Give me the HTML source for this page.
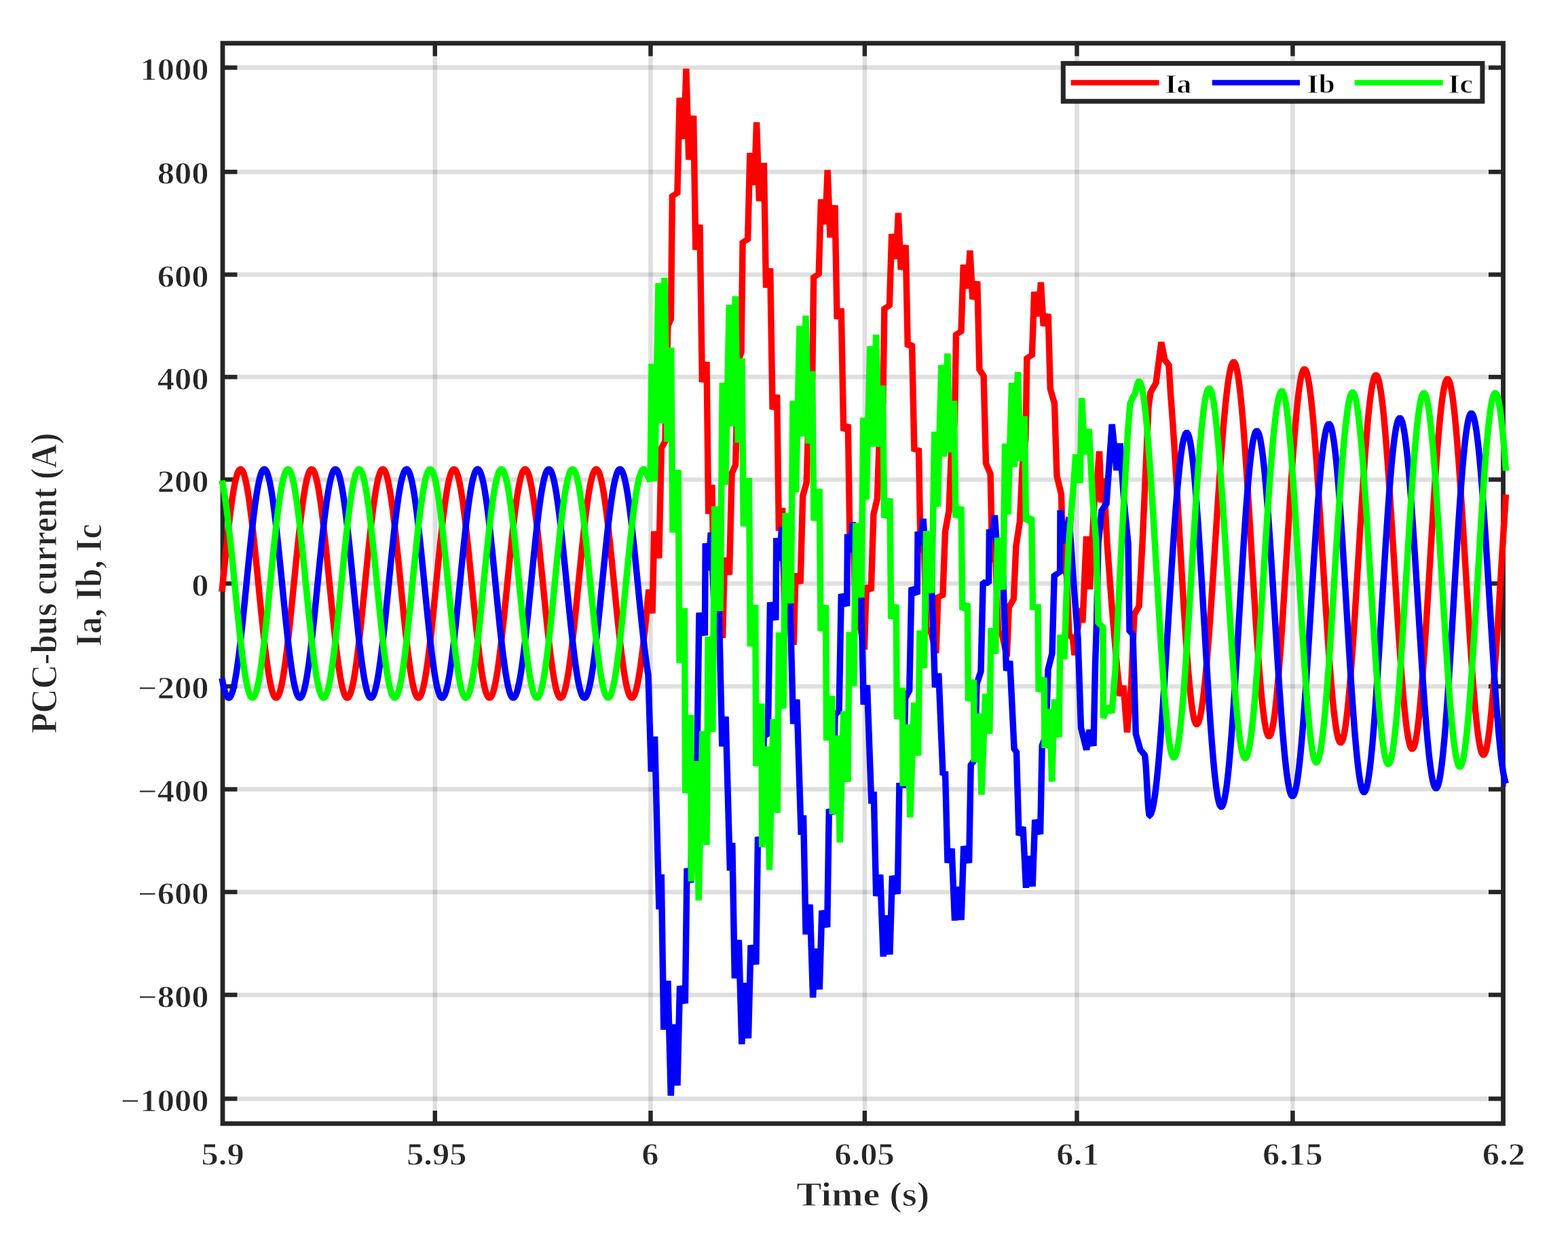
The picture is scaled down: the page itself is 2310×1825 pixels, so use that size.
<!DOCTYPE html>
<html><head><meta charset="utf-8"><title>PCC-bus current</title>
<style>
html,body{margin:0;padding:0;background:#fff;}
body{width:2310px;height:1825px;overflow:hidden;position:relative;font-family:"Liberation Serif",serif;}
svg{position:absolute;left:0;top:0;display:block;}
.t text{font-family:"Liberation Serif",serif;font-weight:bold;stroke:#fff;stroke-width:0.9px;paint-order:fill stroke;}
</style></head><body>
<svg width="2310" height="1825" viewBox="0 0 2310 1825">
<rect width="2310" height="1825" fill="#fff"/>
<g stroke="#262626" stroke-opacity="0.15" stroke-width="6.5" fill="none"><line x1="640.8" y1="63.7" x2="640.8" y2="1655.0"/><line x1="958.5" y1="63.7" x2="958.5" y2="1655.0"/><line x1="1273.9" y1="63.7" x2="1273.9" y2="1655.0"/><line x1="1586.5" y1="63.7" x2="1586.5" y2="1655.0"/><line x1="1904.4" y1="63.7" x2="1904.4" y2="1655.0"/><line x1="328.0" y1="99.6" x2="2214.5" y2="99.6"/><line x1="328.0" y1="253.2" x2="2214.5" y2="253.2"/><line x1="328.0" y1="404.5" x2="2214.5" y2="404.5"/><line x1="328.0" y1="555.3" x2="2214.5" y2="555.3"/><line x1="328.0" y1="706.4" x2="2214.5" y2="706.4"/><line x1="328.0" y1="859.5" x2="2214.5" y2="859.5"/><line x1="328.0" y1="1011.0" x2="2214.5" y2="1011.0"/><line x1="328.0" y1="1162.6" x2="2214.5" y2="1162.6"/><line x1="328.0" y1="1313.9" x2="2214.5" y2="1313.9"/><line x1="328.0" y1="1465.4" x2="2214.5" y2="1465.4"/><line x1="328.0" y1="1618.4" x2="2214.5" y2="1618.4"/></g>

<g stroke="#262626" stroke-width="6.4" fill="none"><line x1="640.8" y1="1655.0" x2="640.8" y2="1636.0"/><line x1="640.8" y1="63.7" x2="640.8" y2="82.7"/><line x1="958.5" y1="1655.0" x2="958.5" y2="1636.0"/><line x1="958.5" y1="63.7" x2="958.5" y2="82.7"/><line x1="1273.9" y1="1655.0" x2="1273.9" y2="1636.0"/><line x1="1273.9" y1="63.7" x2="1273.9" y2="82.7"/><line x1="1586.5" y1="1655.0" x2="1586.5" y2="1636.0"/><line x1="1586.5" y1="63.7" x2="1586.5" y2="82.7"/><line x1="1904.4" y1="1655.0" x2="1904.4" y2="1636.0"/><line x1="1904.4" y1="63.7" x2="1904.4" y2="82.7"/><line x1="328.0" y1="99.6" x2="349.5" y2="99.6"/><line x1="2214.5" y1="99.6" x2="2193.0" y2="99.6"/><line x1="328.0" y1="253.2" x2="349.5" y2="253.2"/><line x1="2214.5" y1="253.2" x2="2193.0" y2="253.2"/><line x1="328.0" y1="404.5" x2="349.5" y2="404.5"/><line x1="2214.5" y1="404.5" x2="2193.0" y2="404.5"/><line x1="328.0" y1="555.3" x2="349.5" y2="555.3"/><line x1="2214.5" y1="555.3" x2="2193.0" y2="555.3"/><line x1="328.0" y1="706.4" x2="349.5" y2="706.4"/><line x1="2214.5" y1="706.4" x2="2193.0" y2="706.4"/><line x1="328.0" y1="859.5" x2="349.5" y2="859.5"/><line x1="2214.5" y1="859.5" x2="2193.0" y2="859.5"/><line x1="328.0" y1="1011.0" x2="349.5" y2="1011.0"/><line x1="2214.5" y1="1011.0" x2="2193.0" y2="1011.0"/><line x1="328.0" y1="1162.6" x2="349.5" y2="1162.6"/><line x1="2214.5" y1="1162.6" x2="2193.0" y2="1162.6"/><line x1="328.0" y1="1313.9" x2="349.5" y2="1313.9"/><line x1="2214.5" y1="1313.9" x2="2193.0" y2="1313.9"/><line x1="328.0" y1="1465.4" x2="349.5" y2="1465.4"/><line x1="2214.5" y1="1465.4" x2="2193.0" y2="1465.4"/><line x1="328.0" y1="1618.4" x2="349.5" y2="1618.4"/><line x1="2214.5" y1="1618.4" x2="2193.0" y2="1618.4"/></g>
<rect x="328.0" y="63.7" width="1886.5" height="1591.3" fill="none" stroke="#262626" stroke-width="6.8"/>
<g transform="scale(1.096,1)"><path d="M298.36,871.6 L299.27,861.5 L300.18,851.4 L301.09,841.3 L302.01,831.3 L302.92,821.4 L303.83,811.6 L304.74,802.0 L305.66,792.7 L306.57,783.5 L307.48,774.6 L308.39,766.0 L309.31,757.8 L310.22,749.9 L311.13,742.4 L312.04,735.4 L312.96,728.8 L313.87,722.6 L314.78,717.0 L315.69,711.8 L316.61,707.2 L317.52,703.2 L318.43,699.7 L319.34,696.7 L320.26,694.4 L321.17,692.6 L322.08,691.5 L322.99,690.9 L323.91,691.0 L324.82,691.7 L325.73,692.9 L326.64,694.8 L327.55,697.3 L328.47,700.3 L329.38,703.9 L330.29,708.1 L331.20,712.8 L332.12,718.1 L333.03,723.8 L333.94,730.1 L334.85,736.8 L335.77,743.9 L336.68,751.5 L337.59,759.4 L338.50,767.7 L339.42,776.4 L340.33,785.3 L341.24,794.5 L342.15,804.0 L343.07,813.6 L343.98,823.4 L344.89,833.3 L345.80,843.4 L346.72,853.4 L347.63,863.5 L348.54,873.6 L349.45,883.7 L350.36,893.6 L351.28,903.5 L352.19,913.1 L353.10,922.6 L354.01,931.9 L354.93,940.9 L355.84,949.6 L356.75,957.9 L357.66,966.0 L358.58,973.6 L359.49,980.8 L360.40,987.6 L361.31,994.0 L362.23,999.8 L363.14,1005.2 L364.05,1010.0 L364.96,1014.3 L365.88,1018.0 L366.79,1021.2 L367.70,1023.7 L368.61,1025.7 L369.53,1027.1 L370.44,1027.9 L371.35,1028.1 L372.26,1027.7 L373.18,1026.6 L374.09,1025.0 L375.00,1022.8 L375.91,1020.0 L376.82,1016.6 L377.74,1012.6 L378.65,1008.1 L379.56,1003.1 L380.47,997.5 L381.39,991.5 L382.30,985.0 L383.21,978.0 L384.12,970.6 L385.04,962.8 L385.95,954.6 L386.86,946.1 L387.77,937.3 L388.69,928.2 L389.60,918.8 L390.51,909.3 L391.42,899.5 L392.34,889.7 L393.25,879.7 L394.16,869.6 L395.07,859.5 L395.99,849.4 L396.90,839.3 L397.81,829.3 L398.72,819.5 L399.64,809.7 L400.55,800.2 L401.46,790.8 L402.37,781.7 L403.28,772.9 L404.20,764.4 L405.11,756.2 L406.02,748.4 L406.93,741.0 L407.85,734.0 L408.76,727.5 L409.67,721.5 L410.58,715.9 L411.50,710.9 L412.41,706.4 L413.32,702.4 L414.23,699.0 L415.15,696.2 L416.06,694.0 L416.97,692.4 L417.88,691.3 L418.80,690.9 L419.71,691.1 L420.62,691.9 L421.53,693.3 L422.45,695.3 L423.36,697.8 L424.27,701.0 L425.18,704.7 L426.09,709.0 L427.01,713.8 L427.92,719.2 L428.83,725.0 L429.74,731.4 L430.66,738.2 L431.57,745.4 L432.48,753.0 L433.39,761.1 L434.31,769.4 L435.22,778.1 L436.13,787.1 L437.04,796.4 L437.96,805.9 L438.87,815.5 L439.78,825.4 L440.69,835.3 L441.61,845.4 L442.52,855.5 L443.43,865.6 L444.34,875.6 L445.26,885.7 L446.17,895.6 L447.08,905.4 L447.99,915.0 L448.91,924.5 L449.82,933.7 L450.73,942.6 L451.64,951.3 L452.55,959.6 L453.47,967.5 L454.38,975.1 L455.29,982.2 L456.20,988.9 L457.12,995.2 L458.03,1000.9 L458.94,1006.2 L459.85,1010.9 L460.77,1015.1 L461.68,1018.7 L462.59,1021.7 L463.50,1024.2 L464.42,1026.1 L465.33,1027.3 L466.24,1028.0 L467.15,1028.1 L468.07,1027.5 L468.98,1026.4 L469.89,1024.6 L470.80,1022.3 L471.72,1019.3 L472.63,1015.8 L473.54,1011.8 L474.45,1007.2 L475.36,1002.0 L476.28,996.4 L477.19,990.2 L478.10,983.6 L479.01,976.6 L479.93,969.1 L480.84,961.2 L481.75,953.0 L482.66,944.4 L483.58,935.5 L484.49,926.3 L485.40,917.0 L486.31,907.4 L487.23,897.6 L488.14,887.7 L489.05,877.7 L489.96,867.6 L490.88,857.5 L491.79,847.4 L492.70,837.3 L493.61,827.4 L494.53,817.5 L495.44,807.8 L496.35,798.3 L497.26,789.0 L498.18,779.9 L499.09,771.1 L500.00,762.7 L500.91,754.6 L501.82,746.9 L502.74,739.6 L503.65,732.7 L504.56,726.3 L505.47,720.3 L506.39,714.9 L507.30,709.9 L508.21,705.5 L509.12,701.7 L510.04,698.4 L510.95,695.7 L511.86,693.6 L512.77,692.1 L513.69,691.2 L514.60,690.9 L515.51,691.2 L516.42,692.1 L517.34,693.6 L518.25,695.7 L519.16,698.4 L520.07,701.7 L520.99,705.5 L521.90,709.9 L522.81,714.9 L523.72,720.3 L524.64,726.3 L525.55,732.7 L526.46,739.6 L527.37,746.9 L528.28,754.6 L529.20,762.7 L530.11,771.1 L531.02,779.9 L531.93,789.0 L532.85,798.3 L533.76,807.8 L534.67,817.5 L535.58,827.4 L536.50,837.3 L537.41,847.4 L538.32,857.5 L539.23,867.6 L540.15,877.7 L541.06,887.7 L541.97,897.6 L542.88,907.4 L543.80,917.0 L544.71,926.3 L545.62,935.5 L546.53,944.4 L547.45,953.0 L548.36,961.2 L549.27,969.1 L550.18,976.6 L551.09,983.6 L552.01,990.2 L552.92,996.4 L553.83,1002.0 L554.74,1007.2 L555.66,1011.8 L556.57,1015.8 L557.48,1019.3 L558.39,1022.3 L559.31,1024.6 L560.22,1026.4 L561.13,1027.5 L562.04,1028.1 L562.96,1028.0 L563.87,1027.3 L564.78,1026.1 L565.69,1024.2 L566.61,1021.7 L567.52,1018.7 L568.43,1015.1 L569.34,1010.9 L570.26,1006.2 L571.17,1000.9 L572.08,995.2 L572.99,988.9 L573.91,982.2 L574.82,975.1 L575.73,967.5 L576.64,959.6 L577.55,951.3 L578.47,942.6 L579.38,933.7 L580.29,924.5 L581.20,915.0 L582.12,905.4 L583.03,895.6 L583.94,885.7 L584.85,875.6 L585.77,865.6 L586.68,855.5 L587.59,845.4 L588.50,835.3 L589.42,825.4 L590.33,815.5 L591.24,805.9 L592.15,796.4 L593.07,787.1 L593.98,778.1 L594.89,769.4 L595.80,761.1 L596.72,753.0 L597.63,745.4 L598.54,738.2 L599.45,731.4 L600.36,725.0 L601.28,719.2 L602.19,713.8 L603.10,709.0 L604.01,704.7 L604.93,701.0 L605.84,697.8 L606.75,695.3 L607.66,693.3 L608.58,691.9 L609.49,691.1 L610.40,690.9 L611.31,691.3 L612.23,692.4 L613.14,694.0 L614.05,696.2 L614.96,699.0 L615.88,702.4 L616.79,706.4 L617.70,710.9 L618.61,715.9 L619.53,721.5 L620.44,727.5 L621.35,734.0 L622.26,741.0 L623.18,748.4 L624.09,756.2 L625.00,764.4 L625.91,772.9 L626.82,781.7 L627.74,790.8 L628.65,800.2 L629.56,809.7 L630.47,819.5 L631.39,829.3 L632.30,839.3 L633.21,849.4 L634.12,859.5 L635.04,869.6 L635.95,879.7 L636.86,889.7 L637.77,899.5 L638.69,909.3 L639.60,918.8 L640.51,928.2 L641.42,937.3 L642.34,946.1 L643.25,954.6 L644.16,962.8 L645.07,970.6 L645.99,978.0 L646.90,985.0 L647.81,991.5 L648.72,997.5 L649.64,1003.1 L650.55,1008.1 L651.46,1012.6 L652.37,1016.6 L653.28,1020.0 L654.20,1022.8 L655.11,1025.0 L656.02,1026.6 L656.93,1027.7 L657.85,1028.1 L658.76,1027.9 L659.67,1027.1 L660.58,1025.7 L661.50,1023.7 L662.41,1021.2 L663.32,1018.0 L664.23,1014.3 L665.15,1010.0 L666.06,1005.2 L666.97,999.8 L667.88,994.0 L668.80,987.6 L669.71,980.8 L670.62,973.6 L671.53,966.0 L672.45,957.9 L673.36,949.6 L674.27,940.9 L675.18,931.9 L676.09,922.6 L677.01,913.1 L677.92,903.5 L678.83,893.6 L679.74,883.7 L680.66,873.6 L681.57,863.5 L682.48,853.4 L683.39,843.4 L684.31,833.3 L685.22,823.4 L686.13,813.6 L687.04,804.0 L687.96,794.5 L688.87,785.3 L689.78,776.4 L690.69,767.7 L691.61,759.4 L692.52,751.5 L693.43,743.9 L694.34,736.8 L695.26,730.1 L696.17,723.8 L697.08,718.1 L697.99,712.8 L698.91,708.1 L699.82,703.9 L700.73,700.3 L701.64,697.3 L702.55,694.8 L703.47,692.9 L704.38,691.7 L705.29,691.0 L706.20,690.9 L707.12,691.5 L708.03,692.6 L708.94,694.4 L709.85,696.7 L710.77,699.7 L711.68,703.2 L712.59,707.2 L713.50,711.8 L714.42,717.0 L715.33,722.6 L716.24,728.8 L717.15,735.4 L718.07,742.4 L718.98,749.9 L719.89,757.8 L720.80,766.0 L721.72,774.6 L722.63,783.5 L723.54,792.7 L724.45,802.0 L725.36,811.6 L726.28,821.4 L727.19,831.3 L728.10,841.3 L729.01,851.4 L729.93,861.5 L730.84,871.6 L731.75,881.7 L732.66,891.6 L733.58,901.5 L734.49,911.2 L735.40,920.7 L736.31,930.0 L737.23,939.1 L738.14,947.9 L739.05,956.3 L739.96,964.4 L740.88,972.1 L741.79,979.4 L742.70,986.3 L743.61,992.7 L744.53,998.7 L745.44,1004.1 L746.35,1009.1 L747.26,1013.5 L748.18,1017.3 L749.09,1020.6 L750.00,1023.3 L750.91,1025.4 L751.82,1026.9 L752.74,1027.8 L753.65,1028.1 L754.56,1027.8 L755.47,1026.9 L756.39,1025.4 L757.30,1023.3 L758.21,1020.6 L759.12,1017.3 L760.04,1013.5 L760.95,1009.1 L761.86,1004.1 L762.77,998.7 L763.69,992.7 L764.60,986.3 L765.51,979.4 L766.42,972.1 L767.34,964.4 L768.25,956.3 L769.16,947.9 L770.07,939.1 L770.99,930.0 L771.90,920.7 L772.81,911.2 L773.72,901.5 L774.64,891.6 L775.55,881.7 L776.46,871.6 L777.37,861.5 L778.28,851.4 L779.20,841.3 L780.11,831.3 L781.02,821.4 L781.93,811.6 L782.85,802.0 L783.76,792.7 L784.67,783.5 L785.58,774.6 L786.50,766.0 L787.41,757.8 L788.32,749.9 L789.23,742.4 L790.15,735.4 L791.06,728.8 L791.97,722.6 L792.88,717.0 L793.80,711.8 L794.71,707.2 L795.62,703.2 L796.53,699.7 L797.45,696.7 L798.36,694.4 L799.27,692.6 L800.18,691.5 L801.09,690.9 L802.01,691.0 L802.92,691.7 L803.83,692.9 L804.74,694.8 L805.66,697.3 L806.57,700.3 L807.48,703.9 L808.39,708.1 L809.31,712.8 L810.22,718.1 L811.13,723.8 L812.04,730.1 L812.96,736.8 L813.87,743.9 L814.78,751.5 L815.69,759.4 L816.61,767.7 L817.52,776.4 L818.43,785.3 L819.34,794.5 L820.26,804.0 L821.17,813.6 L822.08,823.4 L822.99,833.3 L823.91,843.4 L824.82,853.4 L825.73,863.5 L826.64,873.6 L827.55,883.7 L828.47,893.6 L829.38,903.5 L830.29,913.1 L831.20,922.6 L832.12,931.9 L833.03,940.9 L833.94,949.6 L834.85,957.9 L835.77,966.0 L836.68,973.6 L837.59,980.8 L838.50,987.6 L839.42,994.0 L840.33,999.8 L841.24,1005.2 L842.15,1010.0 L843.07,1014.3 L843.98,1018.0 L844.89,1021.2 L845.80,1023.7 L846.72,1025.7 L847.63,1027.1 L848.54,1027.9 L849.45,1028.1 L850.36,1027.7 L851.28,1026.6 L852.19,1025.0 L853.10,1022.8 L854.01,1020.0 L854.93,1016.6 L855.84,1012.6 L856.75,1008.1 L857.66,1003.1 L858.58,997.5 L859.49,991.5 L860.40,985.0 L861.31,978.0 L862.23,970.6 L863.14,962.8 L864.05,954.6 L864.96,946.1 L865.88,937.3 L866.79,928.2 L872.08,868.3 L876.92,903.5 L879.29,782.7 L885.77,822.2 L889.05,660.0 L894.07,650.0 L897.72,480.0 L901.82,470.0 L903.65,289.0 L910.49,284.0 L913.50,144.0 L919.34,204.7 L922.35,101.0 L925.82,235.5 L932.21,170.5 L935.04,368.0 L940.69,331.0 L943.80,563.0 L949.82,533.0 L952.28,757.0 L957.03,714.0 L960.22,905.0 L965.24,885.0 L971.35,940.0 L974.00,821.5 L980.38,846.4 L983.67,697.4 L988.69,684.6 L992.34,531.5 L996.44,518.5 L998.27,357.2 L1005.11,352.2 L1008.12,225.2 L1013.96,272.6 L1016.97,180.2 L1020.44,296.2 L1026.82,239.9 L1029.65,423.7 L1035.31,395.4 L1038.41,603.2 L1044.43,581.5 L1046.90,782.0 L1051.64,748.1 L1054.84,919.1 L1059.85,903.1 L1066.79,950.0 L1069.43,844.4 L1075.82,859.7 L1079.11,730.0 L1084.12,711.4 L1087.77,577.3 L1091.88,558.3 L1093.70,408.4 L1100.55,403.4 L1103.56,293.6 L1109.40,330.4 L1112.41,250.4 L1115.88,349.8 L1122.26,302.4 L1125.09,469.6 L1130.75,454.2 L1133.85,634.3 L1139.87,625.3 L1142.34,798.9 L1147.08,778.3 L1150.27,926.3 L1155.29,916.0 L1161.86,957.0 L1164.51,863.0 L1170.89,870.1 L1174.18,757.7 L1179.20,734.5 L1182.85,617.4 L1186.95,593.5 L1188.78,454.7 L1195.62,449.7 L1198.63,344.7 L1204.47,381.5 L1207.48,313.7 L1210.95,397.3 L1217.34,361.1 L1220.16,510.7 L1225.82,506.4 L1228.92,661.6 L1234.95,663.4 L1237.41,812.8 L1242.15,803.7 L1245.35,931.1 L1250.36,925.8 L1258.21,962.0 L1260.86,879.7 L1267.24,876.5 L1270.53,782.5 L1275.55,752.5 L1279.20,653.2 L1283.30,622.3 L1285.13,492.9 L1291.97,487.9 L1294.98,389.9 L1300.82,425.1 L1303.83,368.9 L1307.30,440.9 L1313.69,414.6 L1316.51,544.2 L1322.17,553.8 L1325.27,682.6 L1331.30,698.1 L1333.76,821.9 L1338.50,827.0 L1341.70,932.4 L1346.72,933.2 L1353.47,967.0 L1356.11,894.6 L1362.50,882.6 L1365.78,804.1 L1370.80,768.3 L1374.45,684.0 L1378.56,646.9 L1380.38,527.7 L1387.23,522.7 L1390.24,429.8 L1396.08,466.1 L1399.09,415.7 L1402.55,480.1 L1408.94,462.5 L1411.77,572.8 L1417.43,594.3 L1420.53,700.7 L1426.55,728.1 L1429.01,830.0 L1433.76,847.4 L1436.95,934.2 L1441.97,940.2 L1444.34,965.0 L1451.92,896.0 L1455.20,917.0 L1460.31,790.0 L1464.87,868.0 L1470.80,740.0 L1473.54,728.0 L1477.65,664.7 L1480.38,740.0 L1483.58,704.5 L1488.14,800.0 L1494.53,893.7 L1501.82,987.0 L1505.47,1025.0 L1510.04,1010.0 L1515.05,1078.8 L1520.53,1010.0 L1524.64,905.0 L1531.02,893.0 L1535.58,800.0 L1543.80,600.0 L1546.53,578.0 L1553.83,564.0 L1560.95,504.0 L1565.69,530.0 L1571.17,538.0 L1573.45,580.0 L1574.36,592.5 L1575.27,605.8 L1576.19,619.7 L1577.10,634.3 L1578.01,649.4 L1578.92,665.0 L1579.84,681.1 L1580.75,697.6 L1581.66,714.4 L1582.57,731.4 L1583.49,748.7 L1584.40,766.0 L1585.31,783.5 L1586.22,801.0 L1587.14,818.3 L1588.05,835.6 L1588.96,852.6 L1589.87,869.4 L1590.78,885.9 L1591.70,902.0 L1592.61,917.6 L1593.52,932.7 L1594.43,947.3 L1595.35,961.2 L1596.26,974.5 L1597.17,987.0 L1598.08,998.8 L1599.00,1009.7 L1599.91,1019.8 L1600.82,1029.0 L1601.73,1037.3 L1602.65,1044.6 L1603.56,1050.9 L1604.47,1056.2 L1605.38,1060.4 L1606.30,1063.6 L1607.21,1065.8 L1608.12,1066.9 L1609.04,1066.9 L1609.96,1066.0 L1610.88,1064.2 L1611.80,1061.5 L1612.72,1057.9 L1613.64,1053.5 L1614.56,1048.1 L1615.48,1042.0 L1616.40,1035.0 L1617.32,1027.3 L1618.25,1018.7 L1619.17,1009.5 L1620.09,999.5 L1621.01,988.8 L1621.93,977.6 L1622.85,965.7 L1623.77,953.2 L1624.69,940.2 L1625.61,926.8 L1626.53,912.9 L1627.45,898.7 L1628.38,884.1 L1629.30,869.2 L1630.22,854.1 L1631.14,838.8 L1632.06,823.4 L1632.98,807.9 L1633.90,792.4 L1634.82,776.9 L1635.74,761.5 L1636.66,746.2 L1637.58,731.1 L1638.50,716.2 L1639.43,701.6 L1640.35,687.4 L1641.27,673.5 L1642.19,660.1 L1643.11,647.1 L1644.03,634.6 L1644.95,622.7 L1645.87,611.5 L1646.79,600.8 L1647.71,590.8 L1648.63,581.6 L1649.55,573.0 L1650.48,565.3 L1651.40,558.3 L1652.32,552.2 L1653.24,546.8 L1654.16,542.4 L1655.08,538.8 L1656.00,536.1 L1656.92,534.3 L1657.84,533.4 L1658.76,533.4 L1659.67,534.4 L1660.59,536.4 L1661.50,539.4 L1662.42,543.4 L1663.33,548.4 L1664.24,554.3 L1665.16,561.1 L1666.07,568.9 L1666.99,577.5 L1667.90,586.9 L1668.82,597.2 L1669.73,608.2 L1670.64,620.0 L1671.56,632.5 L1672.47,645.6 L1673.39,659.3 L1674.30,673.5 L1675.21,688.3 L1676.13,703.5 L1677.04,719.0 L1677.96,734.9 L1678.87,751.1 L1679.79,767.5 L1680.70,784.0 L1681.61,800.6 L1682.53,817.3 L1683.44,833.9 L1684.36,850.4 L1685.27,866.8 L1686.18,883.0 L1687.10,898.9 L1688.01,914.4 L1688.93,929.6 L1689.84,944.4 L1690.76,958.6 L1691.67,972.3 L1692.58,985.4 L1693.50,997.9 L1694.41,1009.7 L1695.33,1020.7 L1696.24,1031.0 L1697.15,1040.4 L1698.07,1049.0 L1698.98,1056.8 L1699.90,1063.6 L1700.81,1069.5 L1701.73,1074.5 L1702.64,1078.5 L1703.55,1081.5 L1704.47,1083.5 L1705.38,1084.5 L1706.30,1084.5 L1707.21,1083.5 L1708.12,1081.5 L1709.04,1078.6 L1709.95,1074.7 L1710.87,1069.8 L1711.78,1064.0 L1712.70,1057.3 L1713.61,1049.7 L1714.52,1041.3 L1715.44,1032.0 L1716.35,1021.9 L1717.27,1011.1 L1718.18,999.5 L1719.09,987.3 L1720.01,974.4 L1720.92,961.0 L1721.84,947.0 L1722.75,932.5 L1723.67,917.6 L1724.58,902.3 L1725.49,886.7 L1726.41,870.9 L1727.32,854.8 L1728.24,838.6 L1729.15,822.3 L1730.06,805.9 L1730.98,789.6 L1731.89,773.4 L1732.81,757.3 L1733.72,741.5 L1734.64,725.9 L1735.55,710.6 L1736.46,695.7 L1737.38,681.2 L1738.29,667.2 L1739.21,653.8 L1740.12,640.9 L1741.03,628.7 L1741.95,617.1 L1742.86,606.3 L1743.78,596.2 L1744.69,586.9 L1745.61,578.5 L1746.52,570.9 L1747.43,564.2 L1748.35,558.4 L1749.26,553.5 L1750.18,549.6 L1751.09,546.7 L1752.00,544.7 L1752.92,543.7 L1753.84,543.7 L1754.75,544.7 L1755.67,546.6 L1756.59,549.5 L1757.51,553.3 L1758.43,558.1 L1759.35,563.8 L1760.27,570.4 L1761.19,577.8 L1762.11,586.1 L1763.03,595.2 L1763.95,605.1 L1764.87,615.7 L1765.79,627.1 L1766.71,639.1 L1767.62,651.8 L1768.54,665.1 L1769.46,678.9 L1770.38,693.1 L1771.30,707.9 L1772.22,723.0 L1773.14,738.4 L1774.06,754.2 L1774.98,770.1 L1775.90,786.3 L1776.82,802.5 L1777.74,818.8 L1778.66,835.1 L1779.58,851.3 L1780.50,867.5 L1781.41,883.4 L1782.33,899.2 L1783.25,914.6 L1784.17,929.7 L1785.09,944.5 L1786.01,958.7 L1786.93,972.5 L1787.85,985.8 L1788.77,998.5 L1789.69,1010.5 L1790.61,1021.9 L1791.53,1032.5 L1792.45,1042.4 L1793.37,1051.5 L1794.28,1059.8 L1795.20,1067.2 L1796.12,1073.8 L1797.04,1079.5 L1797.96,1084.3 L1798.88,1088.1 L1799.80,1091.0 L1800.72,1092.9 L1801.64,1093.9 L1802.55,1093.9 L1803.47,1092.9 L1804.38,1090.9 L1805.29,1088.0 L1806.20,1084.1 L1807.12,1079.2 L1808.03,1073.4 L1808.94,1066.7 L1809.85,1059.1 L1810.77,1050.6 L1811.68,1041.3 L1812.59,1031.2 L1813.50,1020.4 L1814.42,1008.8 L1815.33,996.6 L1816.24,983.7 L1817.15,970.2 L1818.07,956.2 L1818.98,941.7 L1819.89,926.8 L1820.80,911.5 L1821.72,895.9 L1822.63,880.0 L1823.54,863.9 L1824.45,847.7 L1825.36,831.4 L1826.28,815.0 L1827.19,798.7 L1828.10,782.5 L1829.01,766.4 L1829.93,750.5 L1830.84,734.9 L1831.75,719.6 L1832.66,704.7 L1833.58,690.2 L1834.49,676.2 L1835.40,662.7 L1836.31,649.8 L1837.23,637.6 L1838.14,626.0 L1839.05,615.2 L1839.96,605.1 L1840.88,595.8 L1841.79,587.3 L1842.70,579.7 L1843.61,573.0 L1844.53,567.2 L1845.44,562.3 L1846.35,558.4 L1847.26,555.5 L1848.18,553.5 L1849.09,552.5 L1850.00,552.5 L1850.92,553.5 L1851.84,555.4 L1852.76,558.3 L1853.68,562.1 L1854.60,566.9 L1855.52,572.6 L1856.44,579.2 L1857.36,586.6 L1858.28,594.9 L1859.20,604.1 L1860.12,614.0 L1861.03,624.6 L1861.95,636.0 L1862.87,648.0 L1863.79,660.7 L1864.71,674.0 L1865.63,687.8 L1866.55,702.1 L1867.47,716.8 L1868.39,731.9 L1869.31,747.4 L1870.23,763.2 L1871.15,779.1 L1872.07,795.3 L1872.99,811.5 L1873.91,827.8 L1874.82,844.2 L1875.74,860.4 L1876.66,876.6 L1877.58,892.5 L1878.50,908.3 L1879.42,923.8 L1880.34,938.9 L1881.26,953.6 L1882.18,967.9 L1883.10,981.7 L1884.02,995.0 L1884.94,1007.7 L1885.86,1019.7 L1886.78,1031.1 L1887.69,1041.7 L1888.61,1051.6 L1889.53,1060.8 L1890.45,1069.1 L1891.37,1076.5 L1892.29,1083.1 L1893.21,1088.8 L1894.13,1093.6 L1895.05,1097.4 L1895.97,1100.3 L1896.89,1102.2 L1897.81,1103.2 L1898.72,1103.2 L1899.64,1102.2 L1900.55,1100.2 L1901.46,1097.2 L1902.37,1093.3 L1903.28,1088.4 L1904.20,1082.6 L1905.11,1075.8 L1906.02,1068.2 L1906.93,1059.6 L1907.85,1050.3 L1908.76,1040.1 L1909.67,1029.2 L1910.58,1017.6 L1911.50,1005.3 L1912.41,992.3 L1913.32,978.8 L1914.23,964.7 L1915.15,950.1 L1916.06,935.1 L1916.97,919.7 L1917.88,904.0 L1918.80,888.0 L1919.71,871.8 L1920.62,855.5 L1921.53,839.0 L1922.45,822.6 L1923.36,806.1 L1924.27,789.8 L1925.18,773.6 L1926.09,757.6 L1927.01,741.9 L1927.92,726.5 L1928.83,711.5 L1929.74,696.9 L1930.66,682.8 L1931.57,669.3 L1932.48,656.3 L1933.39,644.0 L1934.31,632.4 L1935.22,621.5 L1936.13,611.3 L1937.04,602.0 L1937.96,593.4 L1938.87,585.8 L1939.78,579.0 L1940.69,573.2 L1941.61,568.3 L1942.52,564.4 L1943.43,561.4 L1944.34,559.4 L1945.26,558.4 L1946.17,558.4 L1947.08,559.4 L1947.99,561.3 L1948.90,564.2 L1949.81,568.1 L1950.72,572.9 L1951.63,578.6 L1952.54,585.2 L1953.45,592.7 L1954.36,601.0 L1955.27,610.2 L1956.18,620.2 L1957.10,630.9 L1958.01,642.3 L1958.92,654.4 L1959.83,667.2 L1960.74,680.5 L1961.65,694.4 L1962.56,708.7 L1963.47,723.5 L1964.38,738.8 L1965.29,754.3 L1966.20,770.1 L1967.11,786.2 L1968.02,802.4 L1968.93,818.7 L1969.84,835.1 L1970.76,851.6 L1971.67,867.9 L1972.58,884.1 L1973.49,900.2 L1974.40,916.0 L1975.31,931.5 L1976.22,946.8 L1977.13,961.6 L1978.04,975.9 L1978.95,989.8 L1979.86,1003.1 L1980.77,1015.9 L1981.68,1028.0 L1982.59,1039.4 L1983.51,1050.1 L1984.42,1060.1 L1985.33,1069.3 L1986.24,1077.6 L1987.15,1085.1 L1988.06,1091.7 L1988.97,1097.4 L1989.88,1102.2 L1990.79,1106.1 L1991.70,1109.0 L1992.61,1110.9 L1993.52,1111.9 L1994.43,1111.9 L1995.34,1110.9 L1996.24,1109.0 L1997.15,1106.1 L1998.05,1102.3 L1998.96,1097.5 L1999.86,1091.8 L2000.77,1085.3 L2001.68,1077.8 L2002.58,1069.5 L2003.49,1060.4 L2004.39,1050.5 L2005.30,1039.9 L2006.20,1028.6 L2007.11,1016.5 L2008.01,1003.9 L2008.92,990.6 L2009.82,976.8 L2010.73,962.6 L2011.64,947.9 L2012.54,932.8 L2013.45,917.3 L2014.35,901.6 L2015.26,885.6 L2016.16,869.5 L2017.07,853.3 L2017.97,837.0 L2018.88,820.7 L2019.79,804.5 L2020.69,788.4 L2021.60,772.4 L2022.50,756.7 L2023.41,741.2 L2024.18,728.4" fill="none" stroke="#ff0000" stroke-width="8.6" stroke-linejoin="miter" stroke-miterlimit="1.5" stroke-linecap="butt"/>
<path d="M298.36,999.1 L299.27,1004.5 L300.18,1009.4 L301.09,1013.7 L302.01,1017.5 L302.92,1020.8 L303.83,1023.4 L304.74,1025.5 L305.66,1027.0 L306.57,1027.8 L307.48,1028.1 L308.39,1027.8 L309.31,1026.8 L310.22,1025.3 L311.13,1023.1 L312.04,1020.4 L312.96,1017.1 L313.87,1013.2 L314.78,1008.8 L315.69,1003.8 L316.61,998.3 L317.52,992.3 L318.43,985.9 L319.34,979.0 L320.26,971.6 L321.17,963.9 L322.08,955.7 L322.99,947.3 L323.91,938.5 L324.82,929.4 L325.73,920.1 L326.64,910.6 L327.55,900.9 L328.47,891.0 L329.38,881.0 L330.29,870.9 L331.20,860.8 L332.12,850.7 L333.03,840.7 L333.94,830.7 L334.85,820.8 L335.77,811.0 L336.68,801.4 L337.59,792.0 L338.50,782.9 L339.42,774.0 L340.33,765.5 L341.24,757.3 L342.15,749.4 L343.07,742.0 L343.98,734.9 L344.89,728.3 L345.80,722.2 L346.72,716.6 L347.63,711.5 L348.54,706.9 L349.45,702.9 L350.36,699.4 L351.28,696.6 L352.19,694.3 L353.10,692.5 L354.01,691.4 L354.93,690.9 L355.84,691.0 L356.75,691.7 L357.66,693.1 L358.58,695.0 L359.49,697.5 L360.40,700.5 L361.31,704.2 L362.23,708.4 L363.14,713.2 L364.05,718.4 L364.96,724.2 L365.88,730.5 L366.79,737.2 L367.70,744.4 L368.61,752.0 L369.53,760.0 L370.44,768.3 L371.35,777.0 L372.26,785.9 L373.18,795.1 L374.09,804.6 L375.00,814.2 L375.91,824.1 L376.82,834.0 L377.74,844.0 L378.65,854.1 L379.56,864.2 L380.47,874.3 L381.39,884.3 L382.30,894.3 L383.21,904.1 L384.12,913.8 L385.04,923.2 L385.95,932.5 L386.86,941.5 L387.77,950.1 L388.69,958.5 L389.60,966.5 L390.51,974.1 L391.42,981.3 L392.34,988.1 L393.25,994.4 L394.16,1000.2 L395.07,1005.5 L395.99,1010.3 L396.90,1014.5 L397.81,1018.2 L398.72,1021.4 L399.64,1023.9 L400.55,1025.8 L401.46,1027.2 L402.37,1027.9 L403.28,1028.1 L404.20,1027.6 L405.11,1026.5 L406.02,1024.9 L406.93,1022.6 L407.85,1019.8 L408.76,1016.3 L409.67,1012.4 L410.58,1007.8 L411.50,1002.7 L412.41,997.2 L413.32,991.1 L414.23,984.5 L415.15,977.5 L416.06,970.1 L416.97,962.3 L417.88,954.1 L418.80,945.5 L419.71,936.7 L420.62,927.6 L421.53,918.2 L422.45,908.6 L423.36,898.9 L424.27,889.0 L425.18,879.0 L426.09,868.9 L427.01,858.8 L427.92,848.7 L428.83,838.7 L429.74,828.7 L430.66,818.8 L431.57,809.1 L432.48,799.5 L433.39,790.2 L434.31,781.1 L435.22,772.3 L436.13,763.8 L437.04,755.7 L437.96,747.9 L438.87,740.5 L439.78,733.6 L440.69,727.1 L441.61,721.1 L442.52,715.6 L443.43,710.6 L444.34,706.1 L445.26,702.2 L446.17,698.8 L447.08,696.1 L447.99,693.9 L448.91,692.3 L449.82,691.3 L450.73,690.9 L451.64,691.1 L452.55,692.0 L453.47,693.4 L454.38,695.4 L455.29,698.0 L456.20,701.2 L457.12,705.0 L458.03,709.3 L458.94,714.2 L459.85,719.5 L460.77,725.4 L461.68,731.8 L462.59,738.6 L463.50,745.9 L464.42,753.6 L465.33,761.6 L466.24,770.0 L467.15,778.7 L468.07,787.7 L468.98,797.0 L469.89,806.5 L470.80,816.2 L471.72,826.0 L472.63,836.0 L473.54,846.0 L474.45,856.1 L475.36,866.2 L476.28,876.3 L477.19,886.3 L478.10,896.3 L479.01,906.1 L479.93,915.7 L480.84,925.1 L481.75,934.3 L482.66,943.2 L483.58,951.8 L484.49,960.1 L485.40,968.0 L486.31,975.6 L487.23,982.7 L488.14,989.4 L489.05,995.6 L489.96,1001.3 L490.88,1006.5 L491.79,1011.2 L492.70,1015.3 L493.61,1018.9 L494.53,1021.9 L495.44,1024.3 L496.35,1026.2 L497.26,1027.4 L498.18,1028.0 L499.09,1028.0 L500.00,1027.4 L500.91,1026.3 L501.82,1024.5 L502.74,1022.1 L503.65,1019.1 L504.56,1015.6 L505.47,1011.5 L506.39,1006.8 L507.30,1001.7 L508.21,996.0 L509.12,989.8 L510.04,983.2 L510.95,976.1 L511.86,968.6 L512.77,960.7 L513.69,952.4 L514.60,943.8 L515.51,934.9 L516.42,925.7 L517.34,916.3 L518.25,906.7 L519.16,896.9 L520.07,887.0 L520.99,877.0 L521.90,866.9 L522.81,856.8 L523.72,846.7 L524.64,836.7 L525.55,826.7 L526.46,816.8 L527.37,807.1 L528.28,797.6 L529.20,788.3 L530.11,779.3 L531.02,770.6 L531.93,762.2 L532.85,754.1 L533.76,746.4 L534.67,739.1 L535.58,732.2 L536.50,725.8 L537.41,719.9 L538.32,714.5 L539.23,709.6 L540.15,705.3 L541.06,701.5 L541.97,698.2 L542.88,695.6 L543.80,693.5 L544.71,692.0 L545.62,691.2 L546.53,690.9 L547.45,691.2 L548.36,692.2 L549.27,693.7 L550.18,695.9 L551.09,698.6 L552.01,701.9 L552.92,705.8 L553.83,710.2 L554.74,715.2 L555.66,720.7 L556.57,726.7 L557.48,733.1 L558.39,740.0 L559.31,747.4 L560.22,755.1 L561.13,763.3 L562.04,771.7 L562.96,780.5 L563.87,789.6 L564.78,798.9 L565.69,808.4 L566.61,818.1 L567.52,828.0 L568.43,838.0 L569.34,848.1 L570.26,858.2 L571.17,868.3 L572.08,878.3 L572.99,888.3 L573.91,898.2 L574.82,908.0 L575.73,917.6 L576.64,927.0 L577.55,936.1 L578.47,945.0 L579.38,953.5 L580.29,961.7 L581.20,969.6 L582.12,977.0 L583.03,984.1 L583.94,990.7 L584.85,996.8 L585.77,1002.4 L586.68,1007.5 L587.59,1012.1 L588.50,1016.1 L589.42,1019.6 L590.33,1022.4 L591.24,1024.7 L592.15,1026.5 L593.07,1027.6 L593.98,1028.1 L594.89,1028.0 L595.80,1027.3 L596.72,1025.9 L597.63,1024.0 L598.54,1021.5 L599.45,1018.5 L600.36,1014.8 L601.28,1010.6 L602.19,1005.8 L603.10,1000.6 L604.01,994.8 L604.93,988.5 L605.84,981.8 L606.75,974.6 L607.66,967.0 L608.58,959.0 L609.49,950.7 L610.40,942.0 L611.31,933.1 L612.23,923.9 L613.14,914.4 L614.05,904.8 L614.96,894.9 L615.88,885.0 L616.79,875.0 L617.70,864.9 L618.61,854.8 L619.53,844.7 L620.44,834.7 L621.35,824.7 L622.26,814.9 L623.18,805.2 L624.09,795.8 L625.00,786.5 L625.91,777.5 L626.82,768.9 L627.74,760.5 L628.65,752.5 L629.56,744.9 L630.47,737.7 L631.39,730.9 L632.30,724.6 L633.21,718.8 L634.12,713.5 L635.04,708.7 L635.95,704.5 L636.86,700.8 L637.77,697.6 L638.69,695.1 L639.60,693.2 L640.51,691.8 L641.42,691.1 L642.34,690.9 L643.25,691.4 L644.16,692.5 L645.07,694.1 L645.99,696.4 L646.90,699.2 L647.81,702.7 L648.72,706.6 L649.64,711.2 L650.55,716.3 L651.46,721.8 L652.37,727.9 L653.28,734.5 L654.20,741.5 L655.11,748.9 L656.02,756.7 L656.93,764.9 L657.85,773.5 L658.76,782.3 L659.67,791.4 L660.58,800.8 L661.50,810.4 L662.41,820.1 L663.32,830.0 L664.23,840.0 L665.15,850.1 L666.06,860.2 L666.97,870.3 L667.88,880.3 L668.80,890.3 L669.71,900.2 L670.62,909.9 L671.53,919.5 L672.45,928.8 L673.36,937.9 L674.27,946.7 L675.18,955.2 L676.09,963.3 L677.01,971.1 L677.92,978.5 L678.83,985.4 L679.74,991.9 L680.66,997.9 L681.57,1003.4 L682.48,1008.4 L683.39,1012.9 L684.31,1016.8 L685.22,1020.2 L686.13,1022.9 L687.04,1025.1 L687.96,1026.7 L688.87,1027.7 L689.78,1028.1 L690.69,1027.9 L691.61,1027.0 L692.52,1025.6 L693.43,1023.6 L694.34,1021.0 L695.26,1017.8 L696.17,1014.0 L697.08,1009.7 L697.99,1004.8 L698.91,999.5 L699.82,993.6 L700.73,987.2 L701.64,980.4 L702.55,973.1 L703.47,965.4 L704.38,957.4 L705.29,949.0 L706.20,940.3 L707.12,931.3 L708.03,922.0 L708.94,912.5 L709.85,902.8 L710.77,893.0 L711.68,883.0 L712.59,873.0 L713.50,862.9 L714.42,852.8 L715.33,842.7 L716.24,832.7 L717.15,822.7 L718.07,812.9 L718.98,803.3 L719.89,793.9 L720.80,784.7 L721.72,775.8 L722.63,767.2 L723.54,758.9 L724.45,751.0 L725.36,743.4 L726.28,736.3 L727.19,729.6 L728.10,723.4 L729.01,717.7 L729.93,712.5 L730.84,707.8 L731.75,703.7 L732.66,700.1 L733.58,697.1 L734.49,694.7 L735.40,692.8 L736.31,691.6 L737.23,691.0 L738.14,691.0 L739.05,691.6 L739.96,692.7 L740.88,694.5 L741.79,696.9 L742.70,699.9 L743.61,703.4 L744.53,707.5 L745.44,712.2 L746.35,717.3 L747.26,723.0 L748.18,729.2 L749.09,735.8 L750.00,742.9 L750.91,750.4 L751.82,758.3 L752.74,766.6 L753.65,775.2 L754.56,784.1 L755.47,793.3 L756.39,802.7 L757.30,812.3 L758.21,822.1 L759.12,832.0 L760.04,842.0 L760.95,852.1 L761.86,862.2 L762.77,872.3 L763.69,882.3 L764.60,892.3 L765.51,902.2 L766.42,911.9 L767.34,921.4 L768.25,930.7 L769.16,939.7 L770.07,948.4 L770.99,956.8 L771.90,964.9 L772.81,972.6 L773.72,979.9 L774.64,986.8 L775.55,993.2 L776.46,999.1 L777.37,1004.5 L778.28,1009.4 L779.20,1013.7 L780.11,1017.5 L781.02,1020.8 L781.93,1023.4 L782.85,1025.5 L783.76,1027.0 L784.67,1027.8 L785.58,1028.1 L786.50,1027.8 L787.41,1026.8 L788.32,1025.3 L789.23,1023.1 L790.15,1020.4 L791.06,1017.1 L791.97,1013.2 L792.88,1008.8 L793.80,1003.8 L794.71,998.3 L795.62,992.3 L796.53,985.9 L797.45,979.0 L798.36,971.6 L799.27,963.9 L800.18,955.7 L801.09,947.3 L802.01,938.5 L802.92,929.4 L803.83,920.1 L804.74,910.6 L805.66,900.9 L806.57,891.0 L807.48,881.0 L808.39,870.9 L809.31,860.8 L810.22,850.7 L811.13,840.7 L812.04,830.7 L812.96,820.8 L813.87,811.0 L814.78,801.4 L815.69,792.0 L816.61,782.9 L817.52,774.0 L818.43,765.5 L819.34,757.3 L820.26,749.4 L821.17,742.0 L822.08,734.9 L822.99,728.3 L823.91,722.2 L824.82,716.6 L825.73,711.5 L826.64,706.9 L827.55,702.9 L828.47,699.4 L829.38,696.6 L830.29,694.3 L831.20,692.5 L832.12,691.4 L833.03,690.9 L833.94,691.0 L834.85,691.7 L835.77,693.1 L836.68,695.0 L837.59,697.5 L838.50,700.5 L839.42,704.2 L840.33,708.4 L841.24,713.2 L842.15,718.4 L843.07,724.2 L843.98,730.5 L844.89,737.2 L845.80,744.4 L846.72,752.0 L847.63,760.0 L848.54,768.3 L849.45,777.0 L850.36,785.9 L851.28,795.1 L852.19,804.6 L853.10,814.2 L854.01,824.1 L854.93,834.0 L855.84,844.0 L856.75,854.1 L857.66,864.2 L858.58,874.3 L859.49,884.3 L860.40,894.3 L861.31,904.1 L862.23,913.8 L863.14,923.2 L864.05,932.5 L864.96,941.5 L865.88,950.1 L866.79,958.5 L867.70,966.5 L868.61,974.1 L869.53,981.3 L870.44,988.1 L871.35,994.4 L875.27,1136.6 L880.11,1084.8 L885.86,1339.3 L888.96,1287.7 L892.15,1516.6 L897.72,1444.5 L901.73,1614.0 L905.29,1508.7 L910.58,1599.0 L913.78,1452.4 L920.99,1477.9 L923.36,1279.0 L928.65,1300.0 L931.39,1115.0 L936.86,1121.0 L939.78,902.6 L947.45,936.0 L948.18,800.3 L952.37,840.0 L955.47,784.5 L960.58,905.0 L966.06,880.0 L970.62,1099.5 L975.46,1055.5 L981.20,1282.3 L984.31,1241.6 L987.50,1441.2 L993.07,1384.5 L997.08,1538.2 L1000.64,1447.7 L1005.93,1529.4 L1009.12,1392.4 L1016.33,1420.5 L1018.70,1232.9 L1024.00,1247.3 L1026.73,1081.9 L1032.21,1082.6 L1035.13,887.4 L1042.79,913.3 L1043.52,792.5 L1047.72,825.9 L1050.82,776.0 L1055.93,885.1 L1061.41,863.8 L1066.24,1066.3 L1071.08,1030.3 L1076.82,1229.6 L1079.93,1200.9 L1083.12,1376.3 L1088.69,1332.3 L1092.70,1469.3 L1096.26,1397.3 L1101.55,1457.3 L1104.74,1341.3 L1111.95,1365.7 L1114.32,1192.0 L1119.62,1199.0 L1122.35,1052.9 L1127.83,1047.4 L1130.75,875.1 L1138.41,892.6 L1139.14,786.8 L1143.34,813.4 L1146.44,769.0 L1151.55,867.0 L1157.03,849.6 L1160.77,1037.8 L1165.60,1009.4 L1171.35,1183.5 L1174.45,1166.2 L1177.65,1320.0 L1183.21,1288.5 L1187.23,1409.0 L1190.78,1348.2 L1196.08,1406.0 L1199.27,1290.2 L1206.48,1316.6 L1208.85,1157.1 L1214.14,1156.8 L1216.88,1028.4 L1222.35,1016.9 L1225.27,865.6 L1232.94,875.2 L1233.67,783.1 L1237.86,803.5 L1240.97,764.0 L1246.08,852.0 L1251.55,838.3 L1256.84,1012.4 L1261.68,991.7 L1267.43,1141.8 L1270.53,1136.3 L1273.72,1271.0 L1279.29,1250.0 L1283.30,1356.0 L1286.86,1306.0 L1292.15,1355.0 L1295.35,1246.4 L1302.55,1271.0 L1304.93,1126.8 L1310.22,1118.9 L1312.96,1007.2 L1318.43,989.1 L1321.35,857.6 L1329.01,858.9 L1329.74,779.8 L1333.94,793.8 L1337.04,759.0 L1342.15,837.9 L1347.63,827.7 L1352.65,987.9 L1357.48,973.7 L1363.23,1103.2 L1366.33,1107.9 L1369.53,1230.4 L1375.09,1218.1 L1379.11,1307.7 L1382.66,1260.7 L1387.96,1305.7 L1391.15,1207.7 L1398.36,1228.7 L1400.73,1098.0 L1406.02,1083.5 L1408.76,986.2 L1414.23,962.4 L1417.15,848.0 L1424.82,842.2 L1425.18,751.4 L1431.11,800.0 L1437.04,762.0 L1442.52,850.0 L1448.91,940.0 L1453.01,1072.0 L1460.49,1104.5 L1464.42,1075.0 L1469.89,1098.7 L1472.17,980.0 L1474.00,917.0 L1476.28,800.0 L1480.84,752.0 L1487.23,742.0 L1494.71,624.9 L1500.91,692.8 L1505.47,653.0 L1510.95,740.0 L1516.42,800.0 L1518.25,929.0 L1522.81,935.0 L1526.73,1081.0 L1532.85,1104.5 L1538.32,1111.5 L1538.80,1112.6 L1539.77,1121.3 L1540.73,1136.8 L1541.70,1156.2 L1542.66,1175.7 L1543.63,1191.2 L1544.59,1199.9 L1545.53,1200.9 L1546.44,1200.0 L1547.35,1198.1 L1548.26,1195.4 L1549.17,1191.7 L1550.08,1187.2 L1550.99,1181.8 L1551.90,1175.5 L1552.81,1168.4 L1553.73,1160.5 L1554.64,1151.8 L1555.55,1142.3 L1556.46,1132.2 L1557.37,1121.3 L1558.28,1109.7 L1559.19,1097.6 L1560.10,1084.8 L1561.01,1071.5 L1561.92,1057.7 L1562.83,1043.5 L1563.74,1028.9 L1564.65,1013.9 L1565.56,998.6 L1566.48,983.0 L1567.39,967.2 L1568.30,951.3 L1569.21,935.2 L1570.12,919.2 L1571.03,903.1 L1571.94,887.0 L1572.85,871.1 L1573.76,855.3 L1574.67,839.7 L1575.58,824.4 L1576.49,809.4 L1577.40,794.8 L1578.32,780.6 L1579.23,766.8 L1580.14,753.5 L1581.05,740.7 L1581.96,728.6 L1582.87,717.0 L1583.78,706.1 L1584.69,696.0 L1585.60,686.5 L1586.51,677.8 L1587.42,669.9 L1588.33,662.8 L1589.24,656.5 L1590.16,651.1 L1591.07,646.6 L1591.98,642.9 L1592.89,640.2 L1593.80,638.3 L1594.71,637.4 L1595.62,637.4 L1596.53,638.5 L1597.44,640.6 L1598.35,643.7 L1599.26,647.8 L1600.17,653.0 L1601.08,659.1 L1601.99,666.2 L1602.90,674.2 L1603.82,683.2 L1604.73,693.0 L1605.64,703.6 L1606.55,715.0 L1607.46,727.2 L1608.37,740.1 L1609.28,753.7 L1610.19,767.8 L1611.10,782.5 L1612.01,797.7 L1612.92,813.3 L1613.83,829.4 L1614.74,845.7 L1615.65,862.3 L1616.56,879.0 L1617.47,895.9 L1618.39,912.9 L1619.30,929.9 L1620.21,946.8 L1621.12,963.5 L1622.03,980.1 L1622.94,996.4 L1623.85,1012.5 L1624.76,1028.1 L1625.67,1043.3 L1626.58,1058.0 L1627.49,1072.1 L1628.40,1085.7 L1629.31,1098.6 L1630.22,1110.8 L1631.13,1122.2 L1632.04,1132.8 L1632.95,1142.6 L1633.87,1151.6 L1634.78,1159.6 L1635.69,1166.7 L1636.60,1172.8 L1637.51,1178.0 L1638.42,1182.1 L1639.33,1185.2 L1640.24,1187.3 L1641.15,1188.4 L1642.06,1188.4 L1642.98,1187.4 L1643.90,1185.3 L1644.82,1182.3 L1645.74,1178.3 L1646.65,1173.4 L1647.57,1167.4 L1648.49,1160.6 L1649.41,1152.8 L1650.32,1144.1 L1651.24,1134.6 L1652.16,1124.3 L1653.08,1113.2 L1653.99,1101.4 L1654.91,1088.9 L1655.83,1075.7 L1656.75,1061.9 L1657.67,1047.6 L1658.58,1032.8 L1659.50,1017.5 L1660.42,1001.9 L1661.34,985.9 L1662.25,969.7 L1663.17,953.2 L1664.09,936.6 L1665.01,919.9 L1665.92,903.2 L1666.84,886.5 L1667.76,869.9 L1668.68,853.4 L1669.59,837.2 L1670.51,821.2 L1671.43,805.6 L1672.35,790.3 L1673.27,775.5 L1674.18,761.2 L1675.10,747.4 L1676.02,734.2 L1676.94,721.7 L1677.85,709.9 L1678.77,698.8 L1679.69,688.5 L1680.61,679.0 L1681.52,670.3 L1682.44,662.5 L1683.36,655.7 L1684.28,649.7 L1685.20,644.8 L1686.11,640.8 L1687.03,637.8 L1687.95,635.7 L1688.87,634.7 L1689.78,634.7 L1690.68,635.7 L1691.59,637.5 L1692.49,640.4 L1693.40,644.1 L1694.31,648.8 L1695.21,654.3 L1696.12,660.8 L1697.02,668.0 L1697.93,676.2 L1698.83,685.1 L1699.74,694.7 L1700.64,705.2 L1701.55,716.3 L1702.45,728.0 L1703.36,740.4 L1704.27,753.4 L1705.17,766.9 L1706.08,780.8 L1706.98,795.2 L1707.89,810.0 L1708.79,825.1 L1709.70,840.5 L1710.60,856.1 L1711.51,871.9 L1712.42,887.8 L1713.32,903.8 L1714.23,919.7 L1715.13,935.6 L1716.04,951.4 L1716.94,967.0 L1717.85,982.4 L1718.75,997.5 L1719.66,1012.3 L1720.57,1026.7 L1721.47,1040.6 L1722.38,1054.1 L1723.28,1067.1 L1724.19,1079.5 L1725.09,1091.2 L1726.00,1102.3 L1726.90,1112.8 L1727.81,1122.4 L1728.72,1131.3 L1729.62,1139.5 L1730.53,1146.7 L1731.43,1153.2 L1732.34,1158.7 L1733.24,1163.4 L1734.15,1167.1 L1735.05,1170.0 L1735.96,1171.8 L1736.86,1172.8 L1737.77,1172.8 L1738.68,1171.9 L1739.59,1170.0 L1740.50,1167.2 L1741.41,1163.6 L1742.32,1159.0 L1743.23,1153.5 L1744.14,1147.2 L1745.04,1140.0 L1745.95,1132.1 L1746.86,1123.3 L1747.77,1113.8 L1748.68,1103.5 L1749.59,1092.6 L1750.50,1081.0 L1751.41,1068.7 L1752.32,1056.0 L1753.23,1042.6 L1754.13,1028.8 L1755.04,1014.6 L1755.95,999.9 L1756.86,984.9 L1757.77,969.6 L1758.68,954.1 L1759.59,938.4 L1760.50,922.6 L1761.41,906.6 L1762.32,890.7 L1763.22,874.7 L1764.13,858.9 L1765.04,843.2 L1765.95,827.7 L1766.86,812.4 L1767.77,797.4 L1768.68,782.7 L1769.59,768.5 L1770.50,754.7 L1771.41,741.3 L1772.32,728.6 L1773.22,716.3 L1774.13,704.7 L1775.04,693.8 L1775.95,683.5 L1776.86,674.0 L1777.77,665.2 L1778.68,657.3 L1779.59,650.1 L1780.50,643.8 L1781.41,638.3 L1782.31,633.7 L1783.22,630.1 L1784.13,627.3 L1785.04,625.4 L1785.95,624.5 L1786.86,624.5 L1787.76,625.5 L1788.67,627.5 L1789.57,630.4 L1790.48,634.4 L1791.38,639.2 L1792.29,645.1 L1793.20,651.8 L1794.10,659.4 L1795.01,667.9 L1795.91,677.2 L1796.82,687.3 L1797.72,698.2 L1798.63,709.7 L1799.53,722.0 L1800.44,734.9 L1801.34,748.4 L1802.25,762.4 L1803.15,776.9 L1804.06,791.9 L1804.97,807.2 L1805.87,822.8 L1806.78,838.8 L1807.68,854.9 L1808.59,871.1 L1809.49,887.5 L1810.40,903.9 L1811.30,920.3 L1812.21,936.5 L1813.11,952.6 L1814.02,968.6 L1814.92,984.2 L1815.83,999.5 L1816.74,1014.5 L1817.64,1029.0 L1818.55,1043.0 L1819.45,1056.5 L1820.36,1069.4 L1821.26,1081.7 L1822.17,1093.2 L1823.07,1104.1 L1823.98,1114.2 L1824.88,1123.5 L1825.79,1132.0 L1826.69,1139.6 L1827.60,1146.3 L1828.51,1152.2 L1829.41,1157.0 L1830.32,1161.0 L1831.22,1163.9 L1832.13,1165.9 L1833.03,1166.9 L1833.94,1166.9 L1834.85,1165.9 L1835.75,1164.0 L1836.66,1161.1 L1837.57,1157.3 L1838.48,1152.5 L1839.38,1146.8 L1840.29,1140.2 L1841.20,1132.7 L1842.10,1124.4 L1843.01,1115.3 L1843.92,1105.4 L1844.83,1094.7 L1845.73,1083.3 L1846.64,1071.3 L1847.55,1058.6 L1848.45,1045.3 L1849.36,1031.5 L1850.27,1017.2 L1851.18,1002.4 L1852.08,987.3 L1852.99,971.8 L1853.90,956.1 L1854.81,940.1 L1855.71,923.9 L1856.62,907.6 L1857.53,891.3 L1858.43,875.0 L1859.34,858.7 L1860.25,842.5 L1861.16,826.5 L1862.06,810.8 L1862.97,795.3 L1863.88,780.2 L1864.79,765.4 L1865.69,751.1 L1866.60,737.3 L1867.51,724.0 L1868.41,711.3 L1869.32,699.3 L1870.23,687.9 L1871.14,677.2 L1872.04,667.3 L1872.95,658.2 L1873.86,649.9 L1874.77,642.4 L1875.67,635.8 L1876.58,630.1 L1877.49,625.3 L1878.39,621.5 L1879.30,618.6 L1880.21,616.7 L1881.12,615.7 L1882.03,615.7 L1882.95,616.7 L1883.87,618.6 L1884.79,621.4 L1885.71,625.2 L1886.63,630.0 L1887.54,635.6 L1888.46,642.1 L1889.38,649.5 L1890.30,657.7 L1891.22,666.8 L1892.14,676.6 L1893.06,687.1 L1893.98,698.4 L1894.90,710.3 L1895.82,722.9 L1896.74,736.0 L1897.66,749.7 L1898.58,763.8 L1899.50,778.4 L1900.41,793.4 L1901.33,808.7 L1902.25,824.3 L1903.17,840.1 L1904.09,856.1 L1905.01,872.2 L1905.93,888.4 L1906.85,904.6 L1907.77,920.7 L1908.69,936.7 L1909.61,952.5 L1910.53,968.1 L1911.45,983.4 L1912.37,998.4 L1913.29,1013.0 L1914.20,1027.1 L1915.12,1040.8 L1916.04,1053.9 L1916.96,1066.5 L1917.88,1078.4 L1918.80,1089.7 L1919.72,1100.2 L1920.64,1110.0 L1921.56,1119.1 L1922.48,1127.3 L1923.40,1134.7 L1924.32,1141.2 L1925.24,1146.8 L1926.16,1151.6 L1927.07,1155.4 L1927.99,1158.2 L1928.91,1160.1 L1929.83,1161.1 L1930.75,1161.1 L1931.66,1160.1 L1932.57,1158.1 L1933.49,1155.0 L1934.40,1151.1 L1935.31,1146.1 L1936.22,1140.2 L1937.14,1133.3 L1938.05,1125.6 L1938.96,1116.9 L1939.87,1107.4 L1940.78,1097.2 L1941.70,1086.1 L1942.61,1074.3 L1943.52,1061.8 L1944.43,1048.7 L1945.35,1034.9 L1946.26,1020.6 L1947.17,1005.9 L1948.08,990.6 L1949.00,975.0 L1949.91,959.1 L1950.82,942.9 L1951.73,926.5 L1952.65,909.9 L1953.56,893.2 L1954.47,876.6 L1955.38,859.9 L1956.30,843.3 L1957.21,826.9 L1958.12,810.7 L1959.03,794.8 L1959.95,779.2 L1960.86,763.9 L1961.77,749.2 L1962.68,734.9 L1963.59,721.1 L1964.51,708.0 L1965.42,695.5 L1966.33,683.7 L1967.24,672.6 L1968.16,662.4 L1969.07,652.9 L1969.98,644.2 L1970.89,636.5 L1971.81,629.6 L1972.72,623.7 L1973.63,618.7 L1974.54,614.8 L1975.46,611.7 L1976.37,609.7 L1977.28,608.7 L1978.20,608.7 L1979.12,609.7 L1980.04,611.6 L1980.95,614.5 L1981.87,618.3 L1982.79,623.0 L1983.71,628.7 L1984.63,635.3 L1985.55,642.7 L1986.47,650.9 L1987.39,660.0 L1988.31,669.9 L1989.23,680.5 L1990.15,691.8 L1991.07,703.8 L1991.99,716.4 L1992.91,729.6 L1993.82,743.4 L1994.74,757.6 L1995.66,772.3 L1996.58,787.3 L1997.50,802.7 L1998.42,818.4 L1999.34,834.3 L2000.26,850.4 L2001.18,866.6 L2002.10,882.8 L2003.02,899.0 L2003.94,915.2 L2004.86,931.3 L2005.78,947.2 L2006.70,962.9 L2007.61,978.3 L2008.53,993.3 L2009.45,1008.0 L2010.37,1022.2 L2011.29,1036.0 L2012.21,1049.2 L2013.13,1061.8 L2014.05,1073.8 L2014.97,1085.1 L2015.89,1095.7 L2016.81,1105.6 L2017.73,1114.7 L2018.65,1122.9 L2019.57,1130.3 L2020.48,1136.9 L2021.40,1142.6 L2022.32,1147.3 L2023.24,1151.1 L2024.16,1154.0 L2024.18,1154.0" fill="none" stroke="#0000ff" stroke-width="8.6" stroke-linejoin="miter" stroke-miterlimit="1.5" stroke-linecap="butt"/>
<path d="M298.36,707.8 L299.27,712.5 L300.18,717.7 L301.09,723.4 L302.01,729.6 L302.92,736.3 L303.83,743.4 L304.74,751.0 L305.66,758.9 L306.57,767.2 L307.48,775.8 L308.39,784.7 L309.31,793.9 L310.22,803.3 L311.13,812.9 L312.04,822.7 L312.96,832.7 L313.87,842.7 L314.78,852.8 L315.69,862.9 L316.61,873.0 L317.52,883.0 L318.43,893.0 L319.34,902.8 L320.26,912.5 L321.17,922.0 L322.08,931.3 L322.99,940.3 L323.91,949.0 L324.82,957.4 L325.73,965.4 L326.64,973.1 L327.55,980.4 L328.47,987.2 L329.38,993.6 L330.29,999.5 L331.20,1004.8 L332.12,1009.7 L333.03,1014.0 L333.94,1017.8 L334.85,1021.0 L335.77,1023.6 L336.68,1025.6 L337.59,1027.0 L338.50,1027.9 L339.42,1028.1 L340.33,1027.7 L341.24,1026.7 L342.15,1025.1 L343.07,1022.9 L343.98,1020.2 L344.89,1016.8 L345.80,1012.9 L346.72,1008.4 L347.63,1003.4 L348.54,997.9 L349.45,991.9 L350.36,985.4 L351.28,978.5 L352.19,971.1 L353.10,963.3 L354.01,955.2 L354.93,946.7 L355.84,937.9 L356.75,928.8 L357.66,919.5 L358.58,909.9 L359.49,900.2 L360.40,890.3 L361.31,880.3 L362.23,870.3 L363.14,860.2 L364.05,850.1 L364.96,840.0 L365.88,830.0 L366.79,820.1 L367.70,810.4 L368.61,800.8 L369.53,791.4 L370.44,782.3 L371.35,773.5 L372.26,764.9 L373.18,756.7 L374.09,748.9 L375.00,741.5 L375.91,734.5 L376.82,727.9 L377.74,721.8 L378.65,716.3 L379.56,711.2 L380.47,706.6 L381.39,702.7 L382.30,699.2 L383.21,696.4 L384.12,694.1 L385.04,692.5 L385.95,691.4 L386.86,690.9 L387.77,691.1 L388.69,691.8 L389.60,693.2 L390.51,695.1 L391.42,697.6 L392.34,700.8 L393.25,704.5 L394.16,708.7 L395.07,713.5 L395.99,718.8 L396.90,724.6 L397.81,730.9 L398.72,737.7 L399.64,744.9 L400.55,752.5 L401.46,760.5 L402.37,768.9 L403.28,777.5 L404.20,786.5 L405.11,795.8 L406.02,805.2 L406.93,814.9 L407.85,824.7 L408.76,834.7 L409.67,844.7 L410.58,854.8 L411.50,864.9 L412.41,875.0 L413.32,885.0 L414.23,894.9 L415.15,904.8 L416.06,914.4 L416.97,923.9 L417.88,933.1 L418.80,942.0 L419.71,950.7 L420.62,959.0 L421.53,967.0 L422.45,974.6 L423.36,981.8 L424.27,988.5 L425.18,994.8 L426.09,1000.6 L427.01,1005.8 L427.92,1010.6 L428.83,1014.8 L429.74,1018.5 L430.66,1021.5 L431.57,1024.0 L432.48,1025.9 L433.39,1027.3 L434.31,1028.0 L435.22,1028.1 L436.13,1027.6 L437.04,1026.5 L437.96,1024.7 L438.87,1022.4 L439.78,1019.6 L440.69,1016.1 L441.61,1012.1 L442.52,1007.5 L443.43,1002.4 L444.34,996.8 L445.26,990.7 L446.17,984.1 L447.08,977.0 L447.99,969.6 L448.91,961.7 L449.82,953.5 L450.73,945.0 L451.64,936.1 L452.55,927.0 L453.47,917.6 L454.38,908.0 L455.29,898.2 L456.20,888.3 L457.12,878.3 L458.03,868.3 L458.94,858.2 L459.85,848.1 L460.77,838.0 L461.68,828.0 L462.59,818.1 L463.50,808.4 L464.42,798.9 L465.33,789.6 L466.24,780.5 L467.15,771.7 L468.07,763.3 L468.98,755.1 L469.89,747.4 L470.80,740.0 L471.72,733.1 L472.63,726.7 L473.54,720.7 L474.45,715.2 L475.36,710.2 L476.28,705.8 L477.19,701.9 L478.10,698.6 L479.01,695.9 L479.93,693.7 L480.84,692.2 L481.75,691.2 L482.66,690.9 L483.58,691.2 L484.49,692.0 L485.40,693.5 L486.31,695.6 L487.23,698.2 L488.14,701.5 L489.05,705.3 L489.96,709.6 L490.88,714.5 L491.79,719.9 L492.70,725.8 L493.61,732.2 L494.53,739.1 L495.44,746.4 L496.35,754.1 L497.26,762.2 L498.18,770.6 L499.09,779.3 L500.00,788.3 L500.91,797.6 L501.82,807.1 L502.74,816.8 L503.65,826.7 L504.56,836.7 L505.47,846.7 L506.39,856.8 L507.30,866.9 L508.21,877.0 L509.12,887.0 L510.04,896.9 L510.95,906.7 L511.86,916.3 L512.77,925.7 L513.69,934.9 L514.60,943.8 L515.51,952.4 L516.42,960.7 L517.34,968.6 L518.25,976.1 L519.16,983.2 L520.07,989.8 L520.99,996.0 L521.90,1001.7 L522.81,1006.8 L523.72,1011.5 L524.64,1015.6 L525.55,1019.1 L526.46,1022.1 L527.37,1024.5 L528.28,1026.3 L529.20,1027.4 L530.11,1028.0 L531.02,1028.0 L531.93,1027.4 L532.85,1026.2 L533.76,1024.3 L534.67,1021.9 L535.58,1018.9 L536.50,1015.3 L537.41,1011.2 L538.32,1006.5 L539.23,1001.3 L540.15,995.6 L541.06,989.4 L541.97,982.7 L542.88,975.6 L543.80,968.0 L544.71,960.1 L545.62,951.8 L546.53,943.2 L547.45,934.3 L548.36,925.1 L549.27,915.7 L550.18,906.1 L551.09,896.3 L552.01,886.3 L552.92,876.3 L553.83,866.2 L554.74,856.1 L555.66,846.0 L556.57,836.0 L557.48,826.0 L558.39,816.2 L559.31,806.5 L560.22,797.0 L561.13,787.7 L562.04,778.7 L562.96,770.0 L563.87,761.6 L564.78,753.6 L565.69,745.9 L566.61,738.6 L567.52,731.8 L568.43,725.4 L569.34,719.5 L570.26,714.2 L571.17,709.3 L572.08,705.0 L572.99,701.2 L573.91,698.0 L574.82,695.4 L575.73,693.4 L576.64,692.0 L577.55,691.1 L578.47,690.9 L579.38,691.3 L580.29,692.3 L581.20,693.9 L582.12,696.1 L583.03,698.8 L583.94,702.2 L584.85,706.1 L585.77,710.6 L586.68,715.6 L587.59,721.1 L588.50,727.1 L589.42,733.6 L590.33,740.5 L591.24,747.9 L592.15,755.7 L593.07,763.8 L593.98,772.3 L594.89,781.1 L595.80,790.2 L596.72,799.5 L597.63,809.1 L598.54,818.8 L599.45,828.7 L600.36,838.7 L601.28,848.7 L602.19,858.8 L603.10,868.9 L604.01,879.0 L604.93,889.0 L605.84,898.9 L606.75,908.6 L607.66,918.2 L608.58,927.6 L609.49,936.7 L610.40,945.5 L611.31,954.1 L612.23,962.3 L613.14,970.1 L614.05,977.5 L614.96,984.5 L615.88,991.1 L616.79,997.2 L617.70,1002.7 L618.61,1007.8 L619.53,1012.4 L620.44,1016.3 L621.35,1019.8 L622.26,1022.6 L623.18,1024.9 L624.09,1026.5 L625.00,1027.6 L625.91,1028.1 L626.82,1027.9 L627.74,1027.2 L628.65,1025.8 L629.56,1023.9 L630.47,1021.4 L631.39,1018.2 L632.30,1014.5 L633.21,1010.3 L634.12,1005.5 L635.04,1000.2 L635.95,994.4 L636.86,988.1 L637.77,981.3 L638.69,974.1 L639.60,966.5 L640.51,958.5 L641.42,950.1 L642.34,941.5 L643.25,932.5 L644.16,923.2 L645.07,913.8 L645.99,904.1 L646.90,894.3 L647.81,884.3 L648.72,874.3 L649.64,864.2 L650.55,854.1 L651.46,844.0 L652.37,834.0 L653.28,824.1 L654.20,814.2 L655.11,804.6 L656.02,795.1 L656.93,785.9 L657.85,777.0 L658.76,768.3 L659.67,760.0 L660.58,752.0 L661.50,744.4 L662.41,737.2 L663.32,730.5 L664.23,724.2 L665.15,718.4 L666.06,713.2 L666.97,708.4 L667.88,704.2 L668.80,700.5 L669.71,697.5 L670.62,695.0 L671.53,693.1 L672.45,691.7 L673.36,691.0 L674.27,690.9 L675.18,691.4 L676.09,692.5 L677.01,694.3 L677.92,696.6 L678.83,699.4 L679.74,702.9 L680.66,706.9 L681.57,711.5 L682.48,716.6 L683.39,722.2 L684.31,728.3 L685.22,734.9 L686.13,742.0 L687.04,749.4 L687.96,757.3 L688.87,765.5 L689.78,774.0 L690.69,782.9 L691.61,792.0 L692.52,801.4 L693.43,811.0 L694.34,820.8 L695.26,830.7 L696.17,840.7 L697.08,850.7 L697.99,860.8 L698.91,870.9 L699.82,881.0 L700.73,891.0 L701.64,900.9 L702.55,910.6 L703.47,920.1 L704.38,929.4 L705.29,938.5 L706.20,947.3 L707.12,955.7 L708.03,963.9 L708.94,971.6 L709.85,979.0 L710.77,985.9 L711.68,992.3 L712.59,998.3 L713.50,1003.8 L714.42,1008.8 L715.33,1013.2 L716.24,1017.1 L717.15,1020.4 L718.07,1023.1 L718.98,1025.3 L719.89,1026.8 L720.80,1027.8 L721.72,1028.1 L722.63,1027.8 L723.54,1027.0 L724.45,1025.5 L725.36,1023.4 L726.28,1020.8 L727.19,1017.5 L728.10,1013.7 L729.01,1009.4 L729.93,1004.5 L730.84,999.1 L731.75,993.2 L732.66,986.8 L733.58,979.9 L734.49,972.6 L735.40,964.9 L736.31,956.8 L737.23,948.4 L738.14,939.7 L739.05,930.7 L739.96,921.4 L740.88,911.9 L741.79,902.2 L742.70,892.3 L743.61,882.3 L744.53,872.3 L745.44,862.2 L746.35,852.1 L747.26,842.0 L748.18,832.0 L749.09,822.1 L750.00,812.3 L750.91,802.7 L751.82,793.3 L752.74,784.1 L753.65,775.2 L754.56,766.6 L755.47,758.3 L756.39,750.4 L757.30,742.9 L758.21,735.8 L759.12,729.2 L760.04,723.0 L760.95,717.3 L761.86,712.2 L762.77,707.5 L763.69,703.4 L764.60,699.9 L765.51,696.9 L766.42,694.5 L767.34,692.7 L768.25,691.6 L769.16,691.0 L770.07,691.0 L770.99,691.6 L771.90,692.8 L772.81,694.7 L773.72,697.1 L774.64,700.1 L775.55,703.7 L776.46,707.8 L777.37,712.5 L778.28,717.7 L779.20,723.4 L780.11,729.6 L781.02,736.3 L781.93,743.4 L782.85,751.0 L783.76,758.9 L784.67,767.2 L785.58,775.8 L786.50,784.7 L787.41,793.9 L788.32,803.3 L789.23,812.9 L790.15,822.7 L791.06,832.7 L791.97,842.7 L792.88,852.8 L793.80,862.9 L794.71,873.0 L795.62,883.0 L796.53,893.0 L797.45,902.8 L798.36,912.5 L799.27,922.0 L800.18,931.3 L801.09,940.3 L802.01,949.0 L802.92,957.4 L803.83,965.4 L804.74,973.1 L805.66,980.4 L806.57,987.2 L807.48,993.6 L808.39,999.5 L809.31,1004.8 L810.22,1009.7 L811.13,1014.0 L812.04,1017.8 L812.96,1021.0 L813.87,1023.6 L814.78,1025.6 L815.69,1027.0 L816.61,1027.9 L817.52,1028.1 L818.43,1027.7 L819.34,1026.7 L820.26,1025.1 L821.17,1022.9 L822.08,1020.2 L822.99,1016.8 L823.91,1012.9 L824.82,1008.4 L825.73,1003.4 L826.64,997.9 L827.55,991.9 L828.47,985.4 L829.38,978.5 L830.29,971.1 L831.20,963.3 L832.12,955.2 L833.03,946.7 L833.94,937.9 L834.85,928.8 L835.77,919.5 L836.68,909.9 L837.59,900.2 L838.50,890.3 L839.42,880.3 L840.33,870.3 L841.24,860.2 L842.15,850.1 L843.07,840.0 L843.98,830.0 L844.89,820.1 L845.80,810.4 L846.72,800.8 L847.63,791.4 L848.54,782.3 L849.45,773.5 L850.36,764.9 L851.28,756.7 L852.19,748.9 L853.10,741.5 L854.01,734.5 L854.93,727.9 L855.84,721.8 L856.75,716.3 L857.66,711.2 L858.58,706.6 L859.49,702.7 L860.40,699.2 L861.31,696.4 L862.23,694.1 L863.14,692.5 L864.05,691.4 L864.96,690.9 L865.88,691.1 L868.61,697.0 L874.09,709.0 L875.91,535.7 L880.02,709.0 L885.04,417.1 L888.50,623.5 L893.25,409.2 L896.90,650.8 L902.10,512.0 L904.20,784.5 L911.68,692.2 L913.32,976.4 L920.16,895.5 L921.17,1168.3 L928.56,1053.2 L929.20,1298.3 L936.13,1121.0 L939.05,1326.4 L944.25,1076.9 L949.82,1244.7 L951.82,937.7 L957.85,1078.0 L960.58,745.8 L968.07,900.0 L971.08,563.8 L975.18,714.2 L980.20,449.2 L983.67,627.9 L988.41,436.4 L992.06,652.0 L997.26,527.8 L999.36,775.4 L1006.84,704.1 L1008.49,952.2 L1015.33,890.9 L1016.33,1128.6 L1023.72,1036.3 L1024.36,1247.7 L1031.30,1099.2 L1034.22,1281.4 L1039.42,1059.2 L1044.98,1197.4 L1046.99,931.5 L1053.01,1043.8 L1055.75,755.5 L1063.23,888.6 L1065.69,590.6 L1069.80,724.8 L1074.82,479.9 L1078.28,642.8 L1083.03,464.8 L1086.68,653.2 L1091.88,546.7 L1093.98,767.0 L1101.46,720.2 L1103.10,929.4 L1109.95,891.3 L1110.95,1090.8 L1118.34,1025.0 L1118.98,1199.3 L1125.91,1083.4 L1128.83,1241.0 L1134.03,1047.5 L1139.60,1151.8 L1141.61,931.0 L1147.63,1010.8 L1150.36,770.2 L1157.85,880.1 L1160.31,615.2 L1164.42,735.9 L1169.43,509.8 L1172.90,657.9 L1177.65,492.9 L1181.30,658.1 L1186.50,567.7 L1188.59,762.7 L1196.08,734.2 L1197.72,911.4 L1204.56,890.5 L1205.57,1058.9 L1212.96,1013.1 L1213.59,1157.7 L1220.53,1067.0 L1223.45,1204.0 L1228.65,1034.8 L1234.22,1113.1 L1236.22,928.7 L1242.24,983.9 L1244.98,782.1 L1252.46,873.4 L1256.20,635.7 L1260.31,746.7 L1265.33,537.6 L1268.80,672.7 L1273.54,520.7 L1277.19,666.3 L1282.39,590.3 L1284.49,762.1 L1291.97,746.6 L1293.61,898.1 L1300.46,889.1 L1301.46,1032.5 L1308.85,1001.3 L1309.49,1122.3 L1316.42,1050.9 L1319.34,1170.7 L1324.54,1022.0 L1330.11,1080.8 L1332.12,925.4 L1338.14,962.9 L1340.88,792.0 L1348.36,868.5 L1350.82,653.4 L1354.93,758.0 L1359.95,563.8 L1363.41,688.0 L1368.16,548.0 L1371.81,678.8 L1377.01,613.0 L1379.11,767.9 L1386.59,762.0 L1388.23,894.1 L1395.07,894.1 L1396.08,1018.7 L1403.47,998.3 L1404.11,1101.7 L1411.04,1044.6 L1413.96,1151.4 L1417.43,1030.0 L1423.36,1086.0 L1425.18,935.0 L1430.66,971.0 L1433.39,880.0 L1436.59,800.0 L1442.97,715.0 L1445.99,669.4 L1451.64,711.5 L1454.11,586.2 L1458.03,669.4 L1463.69,632.0 L1468.98,740.0 L1473.36,798.0 L1476.28,917.0 L1482.66,924.0 L1482.94,1057.7 L1489.05,1040.0 L1494.53,1050.0 L1499.09,987.0 L1503.28,893.7 L1507.57,800.0 L1516.06,634.2 L1519.16,594.0 L1523.72,583.0 L1524.18,582.8 L1525.09,581.2 L1526.00,578.2 L1526.92,574.4 L1527.83,570.2 L1528.74,566.4 L1529.65,563.4 L1530.57,561.8 L1531.48,561.7 L1532.40,562.8 L1533.32,564.9 L1534.23,568.0 L1535.15,572.2 L1536.07,577.4 L1536.99,583.5 L1537.91,590.7 L1538.82,598.7 L1539.74,607.7 L1540.66,617.6 L1541.58,628.3 L1542.49,639.8 L1543.41,652.1 L1544.33,665.0 L1545.25,678.6 L1546.17,692.9 L1547.08,707.7 L1548.00,722.9 L1548.92,738.7 L1549.84,754.8 L1550.75,771.2 L1551.67,787.9 L1552.59,804.7 L1553.51,821.7 L1554.43,838.8 L1555.34,855.9 L1556.26,872.9 L1557.18,889.7 L1558.10,906.4 L1559.01,922.8 L1559.93,938.9 L1560.85,954.7 L1561.77,969.9 L1562.69,984.7 L1563.60,999.0 L1564.52,1012.6 L1565.44,1025.5 L1566.36,1037.8 L1567.27,1049.3 L1568.19,1060.0 L1569.11,1069.9 L1570.03,1078.9 L1570.95,1086.9 L1571.86,1094.1 L1572.78,1100.2 L1573.70,1105.4 L1574.62,1109.6 L1575.53,1112.7 L1576.45,1114.8 L1577.37,1115.9 L1578.28,1115.9 L1579.20,1114.9 L1580.11,1112.9 L1581.02,1109.9 L1581.93,1106.0 L1582.85,1101.1 L1583.76,1095.3 L1584.67,1088.5 L1585.58,1080.9 L1586.50,1072.4 L1587.41,1063.1 L1588.32,1052.9 L1589.23,1042.0 L1590.15,1030.4 L1591.06,1018.1 L1591.97,1005.2 L1592.88,991.7 L1593.80,977.6 L1594.71,963.0 L1595.62,948.1 L1596.53,932.7 L1597.45,917.0 L1598.36,901.0 L1599.27,884.9 L1600.18,868.6 L1601.09,852.2 L1602.01,835.7 L1602.92,819.3 L1603.83,803.0 L1604.74,786.9 L1605.66,770.9 L1606.57,755.2 L1607.48,739.8 L1608.39,724.9 L1609.31,710.3 L1610.22,696.2 L1611.13,682.7 L1612.04,669.8 L1612.96,657.5 L1613.87,645.9 L1614.78,635.0 L1615.69,624.8 L1616.61,615.5 L1617.52,607.0 L1618.43,599.4 L1619.34,592.6 L1620.26,586.8 L1621.17,581.9 L1622.08,578.0 L1622.99,575.0 L1623.91,573.0 L1624.82,572.0 L1625.73,572.0 L1626.64,573.0 L1627.56,574.9 L1628.47,577.7 L1629.39,581.5 L1630.30,586.3 L1631.22,591.9 L1632.13,598.4 L1633.04,605.8 L1633.96,614.0 L1634.87,623.0 L1635.79,632.8 L1636.70,643.4 L1637.61,654.6 L1638.53,666.5 L1639.44,679.1 L1640.36,692.2 L1641.27,705.8 L1642.19,720.0 L1643.10,734.6 L1644.01,749.5 L1644.93,764.8 L1645.84,780.4 L1646.76,796.2 L1647.67,812.2 L1648.58,828.3 L1649.50,844.4 L1650.41,860.6 L1651.33,876.7 L1652.24,892.7 L1653.15,908.5 L1654.07,924.1 L1654.98,939.4 L1655.90,954.3 L1656.81,968.9 L1657.73,983.1 L1658.64,996.7 L1659.55,1009.8 L1660.47,1022.4 L1661.38,1034.3 L1662.30,1045.5 L1663.21,1056.1 L1664.12,1065.9 L1665.04,1074.9 L1665.95,1083.1 L1666.87,1090.5 L1667.78,1097.0 L1668.69,1102.6 L1669.61,1107.4 L1670.52,1111.2 L1671.44,1114.0 L1672.35,1115.9 L1673.27,1116.9 L1674.18,1116.9 L1675.09,1116.0 L1676.00,1114.1 L1676.92,1111.4 L1677.83,1107.8 L1678.74,1103.3 L1679.65,1097.9 L1680.57,1091.7 L1681.48,1084.6 L1682.39,1076.7 L1683.30,1068.1 L1684.22,1058.7 L1685.13,1048.6 L1686.04,1037.8 L1686.95,1026.3 L1687.86,1014.3 L1688.78,1001.7 L1689.69,988.5 L1690.60,974.9 L1691.51,960.8 L1692.43,946.4 L1693.34,931.6 L1694.25,916.5 L1695.16,901.2 L1696.08,885.7 L1696.99,870.1 L1697.90,854.4 L1698.81,838.6 L1699.73,822.9 L1700.64,807.3 L1701.55,791.8 L1702.46,776.5 L1703.38,761.4 L1704.29,746.6 L1705.20,732.2 L1706.11,718.1 L1707.03,704.5 L1707.94,691.3 L1708.85,678.7 L1709.76,666.7 L1710.68,655.2 L1711.59,644.4 L1712.50,634.3 L1713.41,624.9 L1714.32,616.3 L1715.24,608.4 L1716.15,601.3 L1717.06,595.1 L1717.97,589.7 L1718.89,585.2 L1719.80,581.6 L1720.71,578.9 L1721.62,577.0 L1722.54,576.1 L1723.45,576.1 L1724.36,577.2 L1725.26,579.2 L1726.17,582.3 L1727.08,586.4 L1727.99,591.6 L1728.90,597.6 L1729.81,604.7 L1730.72,612.7 L1731.63,621.5 L1732.54,631.3 L1733.44,641.8 L1734.35,653.2 L1735.26,665.3 L1736.17,678.1 L1737.08,691.5 L1737.99,705.6 L1738.90,720.2 L1739.81,735.2 L1740.71,750.8 L1741.62,766.7 L1742.53,782.9 L1743.44,799.3 L1744.35,816.0 L1745.26,832.8 L1746.17,849.6 L1747.08,866.4 L1747.99,883.2 L1748.89,899.9 L1749.80,916.3 L1750.71,932.5 L1751.62,948.4 L1752.53,964.0 L1753.44,979.0 L1754.35,993.6 L1755.26,1007.7 L1756.17,1021.1 L1757.07,1033.9 L1757.98,1046.0 L1758.89,1057.4 L1759.80,1067.9 L1760.71,1077.7 L1761.62,1086.5 L1762.53,1094.5 L1763.44,1101.6 L1764.34,1107.6 L1765.25,1112.8 L1766.16,1116.9 L1767.07,1120.0 L1767.98,1122.0 L1768.89,1123.1 L1769.80,1123.1 L1770.70,1122.2 L1771.60,1120.3 L1772.51,1117.6 L1773.41,1113.9 L1774.31,1109.4 L1775.22,1103.9 L1776.12,1097.6 L1777.03,1090.5 L1777.93,1082.6 L1778.83,1073.9 L1779.74,1064.4 L1780.64,1054.2 L1781.55,1043.3 L1782.45,1031.8 L1783.35,1019.6 L1784.26,1006.9 L1785.16,993.6 L1786.07,979.9 L1786.97,965.7 L1787.87,951.2 L1788.78,936.2 L1789.68,921.0 L1790.59,905.6 L1791.49,890.0 L1792.39,874.2 L1793.30,858.4 L1794.20,842.5 L1795.11,826.7 L1796.01,810.9 L1796.91,795.3 L1797.82,779.9 L1798.72,764.7 L1799.63,749.7 L1800.53,735.2 L1801.43,721.0 L1802.34,707.3 L1803.24,694.0 L1804.15,681.3 L1805.05,669.1 L1805.95,657.6 L1806.86,646.7 L1807.76,636.5 L1808.67,627.0 L1809.57,618.3 L1810.47,610.4 L1811.38,603.3 L1812.28,597.0 L1813.19,591.5 L1814.09,587.0 L1814.99,583.3 L1815.90,580.6 L1816.80,578.7 L1817.70,577.8 L1818.61,577.8 L1819.52,578.8 L1820.42,580.7 L1821.33,583.6 L1822.23,587.4 L1823.14,592.1 L1824.04,597.8 L1824.95,604.3 L1825.85,611.7 L1826.76,620.0 L1827.66,629.1 L1828.57,638.9 L1829.48,649.5 L1830.38,660.8 L1831.29,672.8 L1832.19,685.4 L1833.10,698.6 L1834.00,712.3 L1834.91,726.6 L1835.81,741.2 L1836.72,756.3 L1837.63,771.6 L1838.53,787.3 L1839.44,803.2 L1840.34,819.2 L1841.25,835.4 L1842.15,851.6 L1843.06,867.9 L1843.96,884.1 L1844.87,900.1 L1845.78,916.0 L1846.68,931.7 L1847.59,947.0 L1848.49,962.1 L1849.40,976.7 L1850.30,991.0 L1851.21,1004.7 L1852.11,1017.9 L1853.02,1030.5 L1853.93,1042.5 L1854.83,1053.8 L1855.74,1064.4 L1856.64,1074.2 L1857.55,1083.3 L1858.45,1091.6 L1859.36,1099.0 L1860.26,1105.5 L1861.17,1111.2 L1862.07,1115.9 L1862.98,1119.7 L1863.89,1122.6 L1864.79,1124.5 L1865.70,1125.5 L1866.61,1125.5 L1867.53,1124.5 L1868.45,1122.5 L1869.37,1119.5 L1870.29,1115.6 L1871.21,1110.6 L1872.13,1104.8 L1873.05,1098.0 L1873.96,1090.3 L1874.88,1081.8 L1875.80,1072.4 L1876.72,1062.2 L1877.64,1051.3 L1878.56,1039.6 L1879.48,1027.2 L1880.40,1014.2 L1881.32,1000.6 L1882.24,986.5 L1883.16,971.9 L1884.08,956.8 L1885.00,941.4 L1885.92,925.6 L1886.84,909.5 L1887.76,893.3 L1888.68,876.9 L1889.60,860.4 L1890.51,843.9 L1891.43,827.4 L1892.35,811.0 L1893.27,794.8 L1894.19,778.7 L1895.11,762.9 L1896.03,747.5 L1896.95,732.4 L1897.87,717.8 L1898.79,703.7 L1899.71,690.1 L1900.63,677.1 L1901.55,664.7 L1902.47,653.0 L1903.39,642.1 L1904.31,631.9 L1905.23,622.5 L1906.14,614.0 L1907.06,606.3 L1907.98,599.5 L1908.90,593.7 L1909.82,588.7 L1910.74,584.8 L1911.66,581.8 L1912.58,579.8 L1913.50,578.8 L1914.42,578.8 L1915.33,579.8 L1916.24,581.7 L1917.15,584.6 L1918.07,588.4 L1918.98,593.2 L1919.89,598.9 L1920.80,605.5 L1921.72,612.9 L1922.63,621.2 L1923.54,630.4 L1924.45,640.3 L1925.36,650.9 L1926.28,662.3 L1927.19,674.3 L1928.10,687.0 L1929.01,700.3 L1929.93,714.1 L1930.84,728.4 L1931.75,743.1 L1932.66,758.2 L1933.58,773.7 L1934.49,789.5 L1935.40,805.4 L1936.31,821.6 L1937.23,837.8 L1938.14,854.1 L1939.05,870.5 L1939.96,886.7 L1940.88,902.9 L1941.79,918.8 L1942.70,934.6 L1943.61,950.1 L1944.53,965.2 L1945.44,979.9 L1946.35,994.2 L1947.26,1008.0 L1948.18,1021.3 L1949.09,1034.0 L1950.00,1046.0 L1950.91,1057.4 L1951.82,1068.0 L1952.74,1077.9 L1953.65,1087.1 L1954.56,1095.4 L1955.47,1102.8 L1956.39,1109.4 L1957.30,1115.1 L1958.21,1119.9 L1959.12,1123.7 L1960.04,1126.6 L1960.95,1128.5 L1961.86,1129.5 L1962.77,1129.5 L1963.69,1128.5 L1964.60,1126.5 L1965.52,1123.5 L1966.43,1119.5 L1967.35,1114.5 L1968.26,1108.6 L1969.17,1101.8 L1970.09,1094.1 L1971.00,1085.5 L1971.92,1076.0 L1972.83,1065.8 L1973.74,1054.7 L1974.66,1043.0 L1975.57,1030.5 L1976.49,1017.4 L1977.40,1003.7 L1978.32,989.5 L1979.23,974.7 L1980.14,959.6 L1981.06,944.0 L1981.97,928.1 L1982.89,912.0 L1983.80,895.6 L1984.71,879.1 L1985.63,862.5 L1986.54,845.8 L1987.46,829.2 L1988.37,812.7 L1989.29,796.3 L1990.20,780.2 L1991.11,764.3 L1992.03,748.7 L1992.94,733.6 L1993.86,718.8 L1994.77,704.6 L1995.68,690.9 L1996.60,677.8 L1997.51,665.3 L1998.43,653.6 L1999.34,642.5 L2000.26,632.3 L2001.17,622.8 L2002.08,614.2 L2003.00,606.5 L2003.91,599.7 L2004.83,593.8 L2005.74,588.8 L2006.65,584.8 L2007.57,581.8 L2008.48,579.8 L2009.40,578.8 L2010.31,578.8 L2011.23,579.8 L2012.14,581.8 L2013.06,584.9 L2013.98,588.9 L2014.89,593.8 L2015.81,599.8 L2016.72,606.6 L2017.64,614.4 L2018.56,623.0 L2019.47,632.5 L2020.39,642.8 L2021.30,653.9 L2022.22,665.7 L2023.13,678.2 L2024.05,691.4 L2024.18,693.3" fill="none" stroke="#00ff00" stroke-width="8.6" stroke-linejoin="miter" stroke-miterlimit="1.5" stroke-linecap="butt"/></g>
<rect x="1566.3" y="93.4" width="617.6000000000001" height="55.79999999999998" fill="#fff" stroke="#262626" stroke-width="7"/>
<line x1="1577.7" y1="121.7" x2="1707.6" y2="121.7" stroke="#ff0000" stroke-width="8"/>
<line x1="1785.7" y1="121.7" x2="1915.0" y2="121.7" stroke="#0000ff" stroke-width="8"/>
<line x1="1995.7" y1="121.7" x2="2125.6" y2="121.7" stroke="#00ff00" stroke-width="8"/>
<g class="t"><text transform="translate(1716.5,137) scale(1.096,1)" font-size="40" text-anchor="start" fill="#000">Ia</text>
<text transform="translate(1925.5,137) scale(1.096,1)" font-size="40" text-anchor="start" fill="#000">Ib</text>
<text transform="translate(2133.5,137) scale(1.096,1)" font-size="40" text-anchor="start" fill="#000">Ic</text>
<text transform="translate(307.6,117.8) scale(1.096,1)" font-size="46.2" text-anchor="end" fill="#262626">1000</text>
<text transform="translate(307.6,271.4) scale(1.096,1)" font-size="46.2" text-anchor="end" fill="#262626">800</text>
<text transform="translate(307.6,422.7) scale(1.096,1)" font-size="46.2" text-anchor="end" fill="#262626">600</text>
<text transform="translate(307.6,573.5) scale(1.096,1)" font-size="46.2" text-anchor="end" fill="#262626">400</text>
<text transform="translate(307.6,724.6) scale(1.096,1)" font-size="46.2" text-anchor="end" fill="#262626">200</text>
<text transform="translate(307.6,877.7) scale(1.096,1)" font-size="46.2" text-anchor="end" fill="#262626">0</text>
<text transform="translate(307.6,1029.2) scale(1.096,1)" font-size="46.2" text-anchor="end" fill="#262626">−200</text>
<text transform="translate(307.6,1180.8) scale(1.096,1)" font-size="46.2" text-anchor="end" fill="#262626">−400</text>
<text transform="translate(307.6,1332.1000000000001) scale(1.096,1)" font-size="46.2" text-anchor="end" fill="#262626">−600</text>
<text transform="translate(307.6,1483.6000000000001) scale(1.096,1)" font-size="46.2" text-anchor="end" fill="#262626">−800</text>
<text transform="translate(307.6,1636.6000000000001) scale(1.096,1)" font-size="46.2" text-anchor="end" fill="#262626">−1000</text>
<text transform="translate(328.2,1716) scale(1.096,1)" font-size="46.2" text-anchor="middle" fill="#262626">5.9</text>
<text transform="translate(643.3,1716) scale(1.096,1)" font-size="46.2" text-anchor="middle" fill="#262626">5.95</text>
<text transform="translate(958.0,1716) scale(1.096,1)" font-size="46.2" text-anchor="middle" fill="#262626">6</text>
<text transform="translate(1273.6,1716) scale(1.096,1)" font-size="46.2" text-anchor="middle" fill="#262626">6.05</text>
<text transform="translate(1588.0,1716) scale(1.096,1)" font-size="46.2" text-anchor="middle" fill="#262626">6.1</text>
<text transform="translate(1904.4,1716) scale(1.096,1)" font-size="46.2" text-anchor="middle" fill="#262626">6.15</text>
<text transform="translate(2215.5,1716) scale(1.096,1)" font-size="46.2" text-anchor="middle" fill="#262626">6.2</text>
<text transform="translate(1271.2,1775.7) scale(1.096,1)" font-size="51" text-anchor="middle" fill="#262626">Time (s)</text>
<text transform="translate(82.9,859) scale(1.13,1) rotate(-90)" font-size="49.3" text-anchor="middle" fill="#262626">PCC-bus current (A)</text>
<text transform="translate(149.3,862.2) scale(1.13,1) rotate(-90)" font-size="49.3" text-anchor="middle" fill="#262626">Ia, Ib, Ic</text></g>
</svg>
</body></html>
